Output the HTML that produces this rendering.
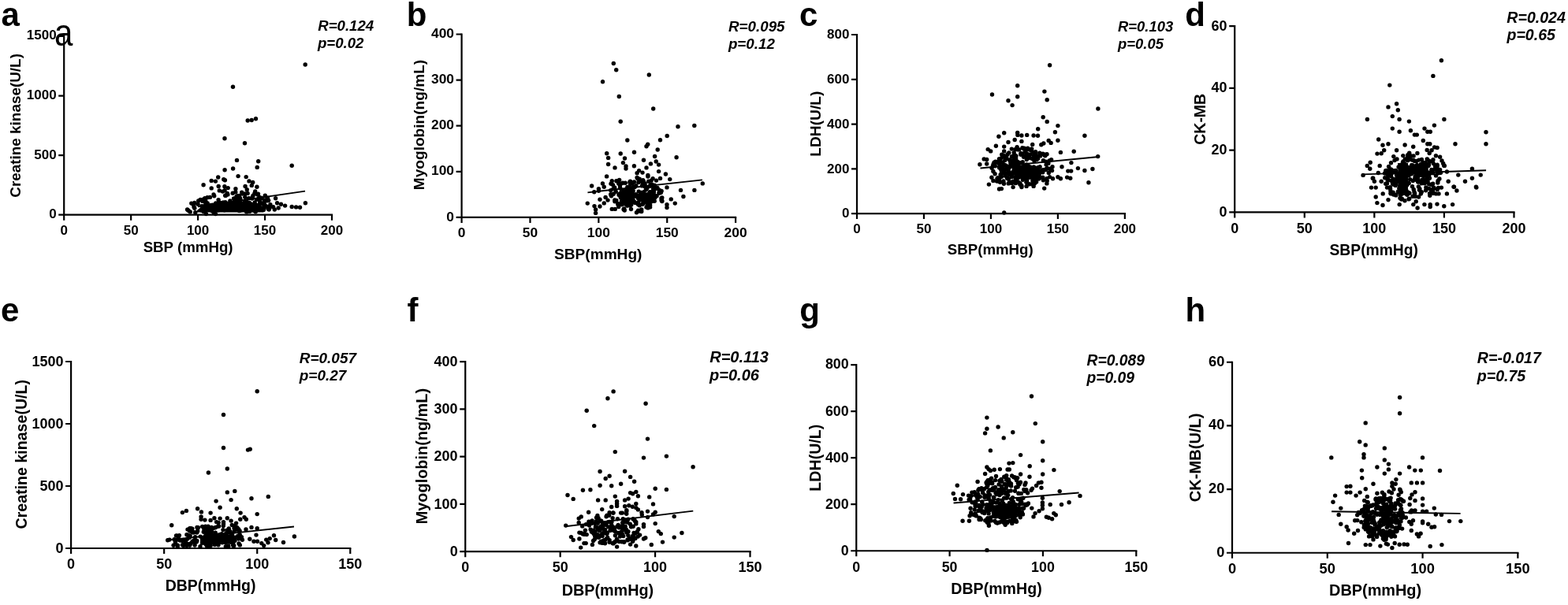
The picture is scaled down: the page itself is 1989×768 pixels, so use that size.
<!DOCTYPE html>
<html><head><meta charset="utf-8"><title>Figure</title>
<style>html,body{margin:0;padding:0;background:#fff;}body{width:1989px;height:768px;overflow:hidden;}svg{display:block;}text{fill:#000;}</style>
</head><body>
<svg width="1989" height="768" viewBox="0 0 1989 768" font-family="'Liberation Sans', Arial, sans-serif" fill="#000">
<g id="pa">
<path d="M250 267L256 262L264 259L272 258L280 255L290 256L300 255L310 256L318 256L325 259L333 262L336 266L334 269.5L250 269.5Z" fill="#000"/>
<g fill="#000">
<circle cx="387.2" cy="82" r="2.7"/>
<circle cx="295.5" cy="110.3" r="2.7"/>
<circle cx="314.2" cy="153" r="2.7"/>
<circle cx="319.2" cy="152.5" r="2.7"/>
<circle cx="324.5" cy="150.8" r="2.7"/>
<circle cx="285" cy="175.8" r="2.7"/>
<circle cx="310.5" cy="181.7" r="2.7"/>
<circle cx="300.5" cy="203.4" r="2.7"/>
<circle cx="327.7" cy="204.7" r="2.7"/>
<circle cx="326.2" cy="212.4" r="2.7"/>
<circle cx="370.2" cy="210.2" r="2.7"/>
<circle cx="285.1" cy="215.7" r="2.7"/>
<circle cx="295.6" cy="214" r="2.7"/>
<circle cx="302.1" cy="223.6" r="2.7"/>
<circle cx="312.2" cy="224.6" r="2.7"/>
<circle cx="276.7" cy="225" r="2.7"/>
<circle cx="268.2" cy="229.4" r="2.7"/>
<circle cx="273.4" cy="230.1" r="2.7"/>
<circle cx="283.8" cy="227.7" r="2.7"/>
<circle cx="285.4" cy="228.8" r="2.7"/>
<circle cx="258.1" cy="234.8" r="2.7"/>
<circle cx="268.2" cy="238.9" r="2.7"/>
<circle cx="277.2" cy="236.5" r="2.7"/>
<circle cx="284.9" cy="236.7" r="2.7"/>
<circle cx="289.2" cy="238.6" r="2.7"/>
<circle cx="298.9" cy="239.7" r="2.7"/>
<circle cx="311.1" cy="236.5" r="2.7"/>
<circle cx="316" cy="229.9" r="2.7"/>
<circle cx="320.7" cy="231.5" r="2.7"/>
<circle cx="319.3" cy="235.4" r="2.7"/>
<circle cx="325.9" cy="237.3" r="2.7"/>
<circle cx="313.3" cy="240.8" r="2.7"/>
<circle cx="323.7" cy="243" r="2.7"/>
<circle cx="327.5" cy="246.3" r="2.7"/>
<circle cx="278.3" cy="241.9" r="2.7"/>
<circle cx="271.7" cy="248.7" r="2.7"/>
<circle cx="263" cy="250.7" r="2.7"/>
<circle cx="254.2" cy="253.4" r="2.7"/>
<circle cx="242.8" cy="258.1" r="2.7"/>
<circle cx="237.6" cy="266" r="2.7"/>
<circle cx="336.3" cy="248.3" r="2.7"/>
<circle cx="339.5" cy="251.2" r="2.7"/>
<circle cx="349.6" cy="251.8" r="2.7"/>
<circle cx="351.6" cy="257.8" r="2.7"/>
<circle cx="356.5" cy="259.2" r="2.7"/>
<circle cx="361.6" cy="261.1" r="2.7"/>
<circle cx="370.2" cy="262.5" r="2.7"/>
<circle cx="375.6" cy="262.9" r="2.7"/>
<circle cx="380.5" cy="263.2" r="2.7"/>
<circle cx="387.4" cy="257.8" r="2.7"/>
<circle cx="346.6" cy="262.7" r="2.7"/>
<circle cx="348.3" cy="266" r="2.7"/>
<circle cx="353.2" cy="264" r="2.7"/>
<circle cx="341.2" cy="266" r="2.7"/>
<circle cx="261.4" cy="271.5" r="2.7"/>
<circle cx="273.4" cy="271.5" r="2.7"/>
<circle cx="306.7" cy="244.1" r="2.7"/>
<circle cx="295.2" cy="245.2" r="2.7"/>
<circle cx="285.9" cy="256.8" r="2.7"/>
<circle cx="336.8" cy="254" r="2.7"/>
<circle cx="291.8" cy="257.6" r="2.7"/>
<circle cx="256.9" cy="255.4" r="2.7"/>
<circle cx="305" cy="263.8" r="2.7"/>
<circle cx="246.8" cy="264.3" r="2.7"/>
<circle cx="307.6" cy="258.5" r="2.7"/>
<circle cx="284.6" cy="265.3" r="2.7"/>
<circle cx="293.1" cy="259.2" r="2.7"/>
<circle cx="291" cy="259.9" r="2.7"/>
<circle cx="286.4" cy="248.3" r="2.7"/>
<circle cx="327.7" cy="261.2" r="2.7"/>
<circle cx="271" cy="246.9" r="2.7"/>
<circle cx="319.8" cy="252" r="2.7"/>
<circle cx="328.4" cy="251.6" r="2.7"/>
<circle cx="340.5" cy="265.4" r="2.7"/>
<circle cx="335.3" cy="254.1" r="2.7"/>
<circle cx="244.9" cy="258.9" r="2.7"/>
<circle cx="321.1" cy="248.1" r="2.7"/>
<circle cx="341.1" cy="262.7" r="2.7"/>
<circle cx="323.1" cy="245.3" r="2.7"/>
<circle cx="297.4" cy="253.4" r="2.7"/>
<circle cx="257.6" cy="262" r="2.7"/>
<circle cx="251.1" cy="259.3" r="2.7"/>
<circle cx="341.9" cy="264.1" r="2.7"/>
<circle cx="269.8" cy="266.5" r="2.7"/>
<circle cx="259.8" cy="251.8" r="2.7"/>
<circle cx="329.3" cy="259.3" r="2.7"/>
<circle cx="247.8" cy="269.7" r="2.7"/>
<circle cx="320.5" cy="249.9" r="2.7"/>
<circle cx="246.7" cy="257.5" r="2.7"/>
<circle cx="263.2" cy="258" r="2.7"/>
<circle cx="277.1" cy="253.6" r="2.7"/>
<circle cx="340.6" cy="254.5" r="2.7"/>
<circle cx="299.1" cy="266" r="2.7"/>
<circle cx="335.1" cy="264.5" r="2.7"/>
<circle cx="316.9" cy="268.2" r="2.7"/>
<circle cx="258.2" cy="268.5" r="2.7"/>
<circle cx="332.3" cy="258.1" r="2.7"/>
<circle cx="282.5" cy="243.1" r="2.7"/>
<circle cx="241.2" cy="268.9" r="2.7"/>
<circle cx="262.7" cy="261.1" r="2.7"/>
<circle cx="264.8" cy="264.7" r="2.7"/>
<circle cx="301.4" cy="248.8" r="2.7"/>
<circle cx="255.9" cy="261.6" r="2.7"/>
<circle cx="297.4" cy="265.6" r="2.7"/>
<circle cx="303.3" cy="248.4" r="2.7"/>
<circle cx="285.1" cy="241.8" r="2.7"/>
<circle cx="298.8" cy="243.9" r="2.7"/>
<circle cx="276.1" cy="266.7" r="2.7"/>
<circle cx="342.9" cy="259.7" r="2.7"/>
<circle cx="311.7" cy="257.5" r="2.7"/>
<circle cx="238.9" cy="267.3" r="2.7"/>
<circle cx="312.7" cy="268.9" r="2.7"/>
<circle cx="289.1" cy="261.9" r="2.7"/>
<circle cx="271.4" cy="270" r="2.7"/>
<circle cx="316.6" cy="267" r="2.7"/>
<circle cx="316.6" cy="261.1" r="2.7"/>
<circle cx="322.7" cy="267.5" r="2.7"/>
<circle cx="275" cy="260.6" r="2.7"/>
<circle cx="334.3" cy="266.1" r="2.7"/>
<circle cx="282.1" cy="263.7" r="2.7"/>
<circle cx="330.3" cy="257.2" r="2.7"/>
<circle cx="304.5" cy="251.5" r="2.7"/>
<circle cx="299.9" cy="258.3" r="2.7"/>
<circle cx="245.7" cy="259.2" r="2.7"/>
<circle cx="315.6" cy="251.7" r="2.7"/>
<circle cx="316.4" cy="257.4" r="2.7"/>
<circle cx="284.6" cy="265.2" r="2.7"/>
<circle cx="246" cy="262.5" r="2.7"/>
<circle cx="288.9" cy="246.9" r="2.7"/>
<circle cx="312.4" cy="254.9" r="2.7"/>
<circle cx="303.4" cy="267.6" r="2.7"/>
<circle cx="269.5" cy="260.3" r="2.7"/>
<circle cx="334.8" cy="259.8" r="2.7"/>
<circle cx="284.7" cy="266.8" r="2.7"/>
<circle cx="272.3" cy="260" r="2.7"/>
<circle cx="258.4" cy="252.9" r="2.7"/>
<circle cx="324" cy="267.4" r="2.7"/>
<circle cx="332.1" cy="251.5" r="2.7"/>
<circle cx="300" cy="249.5" r="2.7"/>
<circle cx="251.7" cy="254.9" r="2.7"/>
<circle cx="327.4" cy="265.5" r="2.7"/>
<circle cx="313.8" cy="268.5" r="2.7"/>
<circle cx="285.7" cy="248.3" r="2.7"/>
<circle cx="260.1" cy="252.4" r="2.7"/>
<circle cx="304.6" cy="254.8" r="2.7"/>
<circle cx="271.1" cy="265.2" r="2.7"/>
<circle cx="313.5" cy="257.1" r="2.7"/>
<circle cx="270.4" cy="263.7" r="2.7"/>
<circle cx="326.6" cy="247.1" r="2.7"/>
<circle cx="305" cy="253.4" r="2.7"/>
<circle cx="305" cy="259.7" r="2.7"/>
<circle cx="324.2" cy="268.8" r="2.7"/>
<circle cx="310.9" cy="246" r="2.7"/>
<circle cx="288.3" cy="245.4" r="2.7"/>
<circle cx="314.1" cy="245.4" r="2.7"/>
<circle cx="266.4" cy="250.4" r="2.7"/>
<circle cx="312.3" cy="255.6" r="2.7"/>
<circle cx="303.4" cy="262.7" r="2.7"/>
<circle cx="279.5" cy="263.8" r="2.7"/>
<circle cx="337.7" cy="261.7" r="2.7"/>
<circle cx="304.6" cy="267.3" r="2.7"/>
<circle cx="277.7" cy="257.1" r="2.7"/>
<circle cx="332" cy="263.9" r="2.7"/>
<circle cx="339" cy="253.9" r="2.7"/>
<circle cx="307.3" cy="246.1" r="2.7"/>
<circle cx="315" cy="264.6" r="2.7"/>
<circle cx="306.3" cy="261.5" r="2.7"/>
<circle cx="260" cy="267" r="2.7"/>
<circle cx="295" cy="263.7" r="2.7"/>
<circle cx="271.6" cy="267.3" r="2.7"/>
<circle cx="329.4" cy="250.5" r="2.7"/>
<circle cx="296.4" cy="263" r="2.7"/>
<circle cx="323.4" cy="245.2" r="2.7"/>
<circle cx="273.2" cy="263.6" r="2.7"/>
<circle cx="292.8" cy="261.7" r="2.7"/>
<circle cx="327.7" cy="260.7" r="2.7"/>
<circle cx="339.1" cy="254.8" r="2.7"/>
<circle cx="260.9" cy="255.8" r="2.7"/>
<circle cx="275.5" cy="262.8" r="2.7"/>
<circle cx="306.2" cy="258.9" r="2.7"/>
<circle cx="324.2" cy="259.6" r="2.7"/>
<circle cx="277.4" cy="256.2" r="2.7"/>
<circle cx="324.4" cy="266.1" r="2.7"/>
<circle cx="268.3" cy="265.2" r="2.7"/>
<circle cx="335.2" cy="259" r="2.7"/>
<circle cx="300.4" cy="252.8" r="2.7"/>
<circle cx="297.2" cy="258.6" r="2.7"/>
<circle cx="303.3" cy="249.5" r="2.7"/>
<circle cx="335.3" cy="258.8" r="2.7"/>
<circle cx="285.3" cy="264.2" r="2.7"/>
<circle cx="299.5" cy="258.3" r="2.7"/>
<circle cx="310.8" cy="250.3" r="2.7"/>
<circle cx="297.4" cy="256.9" r="2.7"/>
<circle cx="334.2" cy="266.5" r="2.7"/>
<circle cx="273.7" cy="258" r="2.7"/>
<circle cx="321.8" cy="266.1" r="2.7"/>
<circle cx="291.9" cy="255" r="2.7"/>
<circle cx="266.8" cy="260.7" r="2.7"/>
<circle cx="310.5" cy="255.1" r="2.7"/>
<circle cx="281.3" cy="260.8" r="2.7"/>
<circle cx="259.2" cy="262.9" r="2.7"/>
<circle cx="260.8" cy="258.7" r="2.7"/>
<circle cx="296.7" cy="257.3" r="2.7"/>
<circle cx="283.1" cy="256.9" r="2.7"/>
<circle cx="296.6" cy="252" r="2.7"/>
<circle cx="268" cy="261" r="2.7"/>
<circle cx="306.2" cy="259.1" r="2.7"/>
<circle cx="324.9" cy="260.6" r="2.7"/>
<circle cx="325.4" cy="253.4" r="2.7"/>
<circle cx="315.2" cy="264.4" r="2.7"/>
<circle cx="329.4" cy="255" r="2.7"/>
<circle cx="277.7" cy="266.5" r="2.7"/>
<circle cx="269.2" cy="268" r="2.7"/>
<circle cx="271.1" cy="262.8" r="2.7"/>
<circle cx="323.2" cy="257" r="2.7"/>
<circle cx="319.5" cy="251.4" r="2.7"/>
<circle cx="285.4" cy="262" r="2.7"/>
<circle cx="310" cy="266.3" r="2.7"/>
<circle cx="294.5" cy="263.4" r="2.7"/>
<circle cx="294.2" cy="262" r="2.7"/>
<circle cx="298.5" cy="258.8" r="2.7"/>
<circle cx="300" cy="251.8" r="2.7"/>
<circle cx="323.9" cy="267.8" r="2.7"/>
<circle cx="255.5" cy="267.1" r="2.7"/>
<circle cx="290.7" cy="263.5" r="2.7"/>
<circle cx="278.8" cy="257.9" r="2.7"/>
<circle cx="295.3" cy="257.2" r="2.7"/>
<circle cx="302.9" cy="249.3" r="2.7"/>
</g>
<path d="M81.2 46V272.65H421" fill="none" stroke="#000" stroke-width="2.2" stroke-linecap="square"/>
<path d="M81.2 272.65v7M166.15 272.65v7M251.1 272.65v7M336.05 272.65v7M421 272.65v7M81.2 272.65h-7M81.2 197.1h-7M81.2 121.55h-7M81.2 46h-7" stroke="#000" stroke-width="2.2" fill="none"/>
<line x1="251.1" y1="262.38" x2="387.02" y2="242.63" stroke="#000" stroke-width="1.9"/>
<g font-size="17.0" font-weight="bold" text-anchor="end">
<text x="71.6" y="277.14">0</text>
<text x="71.6" y="201.59">500</text>
<text x="71.6" y="126.04">1000</text>
<text x="71.6" y="50.49">1500</text>
</g>
<g font-size="17.0" font-weight="bold" text-anchor="middle">
<text x="81.2" y="297.65">0</text>
<text x="166.15" y="297.65">50</text>
<text x="251.1" y="297.65">100</text>
<text x="336.05" y="297.65">150</text>
<text x="421" y="297.65">200</text>
</g>
<text x="238.6" y="320.4" font-size="18.7" font-weight="bold" text-anchor="middle">SBP (mmHg)</text>
<text transform="translate(25.6 159.4) rotate(-90)" font-size="18.9" font-weight="bold" text-anchor="middle">Creatine kinase(U/L)</text>
<text x="403.2" y="39.2" font-size="18.66" font-weight="bold" font-style="italic">R=0.124</text>
<text x="402.9" y="60.7" font-size="18.66" font-weight="bold" font-style="italic">p=0.02</text>
<text x="1.45" y="32.8" font-size="42" font-weight="bold">a</text>
</g>
<g id="pb">
<path d="M786 242L795 238L804 240L806 250L803 262L795 264L788 258Z" fill="#000"/>
<path d="M812 246L822 244L830 248L832 256L824 260L814 258Z" fill="#000"/>
<g fill="#000">
<circle cx="778.3" cy="80.5" r="2.7"/>
<circle cx="781.7" cy="88.8" r="2.7"/>
<circle cx="823.3" cy="95" r="2.7"/>
<circle cx="764.5" cy="103.8" r="2.7"/>
<circle cx="785.3" cy="122.5" r="2.7"/>
<circle cx="828.7" cy="138" r="2.7"/>
<circle cx="787.2" cy="154.2" r="2.7"/>
<circle cx="860" cy="160.8" r="2.7"/>
<circle cx="880.8" cy="159.5" r="2.7"/>
<circle cx="795.8" cy="178" r="2.7"/>
<circle cx="846.2" cy="172.5" r="2.7"/>
<circle cx="837.5" cy="177.8" r="2.7"/>
<circle cx="821.7" cy="183.3" r="2.7"/>
<circle cx="820" cy="185.8" r="2.7"/>
<circle cx="834.2" cy="190" r="2.7"/>
<circle cx="769.7" cy="194.7" r="2.7"/>
<circle cx="787.2" cy="195" r="2.7"/>
<circle cx="804.5" cy="193.3" r="2.7"/>
<circle cx="771.6" cy="200.4" r="2.7"/>
<circle cx="792.5" cy="201" r="2.7"/>
<circle cx="830.6" cy="198.5" r="2.7"/>
<circle cx="858.1" cy="199.75" r="2.7"/>
<circle cx="816.5" cy="203.25" r="2.7"/>
<circle cx="771.6" cy="208.5" r="2.7"/>
<circle cx="790.4" cy="206.6" r="2.7"/>
<circle cx="832.25" cy="205" r="2.7"/>
<circle cx="825.4" cy="207.9" r="2.7"/>
<circle cx="835.6" cy="209.1" r="2.7"/>
<circle cx="804.4" cy="210.75" r="2.7"/>
<circle cx="780" cy="212.9" r="2.7"/>
<circle cx="794" cy="211" r="2.7"/>
<circle cx="794" cy="214.1" r="2.7"/>
<circle cx="820" cy="212.9" r="2.7"/>
<circle cx="835.6" cy="217.6" r="2.7"/>
<circle cx="844.4" cy="221" r="2.7"/>
<circle cx="810.6" cy="216.6" r="2.7"/>
<circle cx="808.1" cy="219.75" r="2.7"/>
<circle cx="815" cy="219.1" r="2.7"/>
<circle cx="821.9" cy="222.4" r="2.7"/>
<circle cx="821.9" cy="224.1" r="2.7"/>
<circle cx="769.6" cy="223.9" r="2.7"/>
<circle cx="849.75" cy="227.6" r="2.7"/>
<circle cx="837.5" cy="226.4" r="2.7"/>
<circle cx="828.1" cy="226.6" r="2.7"/>
<circle cx="832.5" cy="229.1" r="2.7"/>
<circle cx="826.25" cy="229.1" r="2.7"/>
<circle cx="808.1" cy="225.4" r="2.7"/>
<circle cx="811.25" cy="227.25" r="2.7"/>
<circle cx="891.25" cy="232.9" r="2.7"/>
<circle cx="750.6" cy="236" r="2.7"/>
<circle cx="764.4" cy="232.9" r="2.7"/>
<circle cx="766.25" cy="237.25" r="2.7"/>
<circle cx="759.4" cy="239.75" r="2.7"/>
<circle cx="759.4" cy="242.25" r="2.7"/>
<circle cx="753.75" cy="243.75" r="2.7"/>
<circle cx="846" cy="237.9" r="2.7"/>
<circle cx="863.5" cy="241.4" r="2.7"/>
<circle cx="880.9" cy="241.4" r="2.7"/>
<circle cx="839.1" cy="242.5" r="2.7"/>
<circle cx="866.9" cy="249.5" r="2.7"/>
<circle cx="851.25" cy="252.9" r="2.7"/>
<circle cx="856.25" cy="258.1" r="2.7"/>
<circle cx="846" cy="259.75" r="2.7"/>
<circle cx="846" cy="263.5" r="2.7"/>
<circle cx="745.25" cy="258.1" r="2.7"/>
<circle cx="754" cy="261.6" r="2.7"/>
<circle cx="755.6" cy="266" r="2.7"/>
<circle cx="755.6" cy="270.4" r="2.7"/>
<circle cx="761" cy="253.25" r="2.7"/>
<circle cx="761" cy="262" r="2.7"/>
<circle cx="766.25" cy="257.9" r="2.7"/>
<circle cx="768.1" cy="250.4" r="2.7"/>
<circle cx="771" cy="254.1" r="2.7"/>
<circle cx="776.25" cy="265.4" r="2.7"/>
<circle cx="780.25" cy="265.4" r="2.7"/>
<circle cx="792.25" cy="267" r="2.7"/>
<circle cx="807.5" cy="269.75" r="2.7"/>
<circle cx="813.75" cy="268.5" r="2.7"/>
<circle cx="820" cy="262.9" r="2.7"/>
<circle cx="775" cy="233.25" r="2.7"/>
<circle cx="776.25" cy="229.75" r="2.7"/>
<circle cx="781.9" cy="229.75" r="2.7"/>
<circle cx="785.6" cy="228.5" r="2.7"/>
<circle cx="790" cy="232.25" r="2.7"/>
<circle cx="804.4" cy="231" r="2.7"/>
<circle cx="815" cy="232" r="2.7"/>
<circle cx="818.1" cy="232.9" r="2.7"/>
<circle cx="821.7" cy="263.1" r="2.7"/>
<circle cx="786.3" cy="246" r="2.7"/>
<circle cx="824.3" cy="243.8" r="2.7"/>
<circle cx="787.3" cy="233.3" r="2.7"/>
<circle cx="808.9" cy="226.7" r="2.7"/>
<circle cx="821.9" cy="263.9" r="2.7"/>
<circle cx="816.8" cy="243.8" r="2.7"/>
<circle cx="814.8" cy="248.2" r="2.7"/>
<circle cx="791.6" cy="266.1" r="2.7"/>
<circle cx="824.6" cy="260.2" r="2.7"/>
<circle cx="829.4" cy="243.8" r="2.7"/>
<circle cx="821.2" cy="259.8" r="2.7"/>
<circle cx="826" cy="243.9" r="2.7"/>
<circle cx="797.2" cy="246.6" r="2.7"/>
<circle cx="774.7" cy="241.6" r="2.7"/>
<circle cx="817.4" cy="253.5" r="2.7"/>
<circle cx="819.3" cy="240.9" r="2.7"/>
<circle cx="818.9" cy="251.1" r="2.7"/>
<circle cx="810.2" cy="243.1" r="2.7"/>
<circle cx="821.7" cy="259.5" r="2.7"/>
<circle cx="815.8" cy="258.5" r="2.7"/>
<circle cx="791.5" cy="243.7" r="2.7"/>
<circle cx="777.4" cy="234.6" r="2.7"/>
<circle cx="799.5" cy="230.3" r="2.7"/>
<circle cx="791.1" cy="265.8" r="2.7"/>
<circle cx="811.4" cy="248.3" r="2.7"/>
<circle cx="839.8" cy="251" r="2.7"/>
<circle cx="814.6" cy="259.4" r="2.7"/>
<circle cx="784.9" cy="246.8" r="2.7"/>
<circle cx="785.5" cy="247.8" r="2.7"/>
<circle cx="815.6" cy="228.6" r="2.7"/>
<circle cx="838.3" cy="244.5" r="2.7"/>
<circle cx="809.8" cy="252.3" r="2.7"/>
<circle cx="798.9" cy="238.6" r="2.7"/>
<circle cx="818.5" cy="250.7" r="2.7"/>
<circle cx="793.3" cy="257.5" r="2.7"/>
<circle cx="784.6" cy="259.2" r="2.7"/>
<circle cx="800.5" cy="265.5" r="2.7"/>
<circle cx="803.2" cy="247" r="2.7"/>
<circle cx="809.6" cy="267.2" r="2.7"/>
<circle cx="823.1" cy="246.6" r="2.7"/>
<circle cx="815" cy="231.1" r="2.7"/>
<circle cx="816.4" cy="246.1" r="2.7"/>
<circle cx="809.9" cy="231.5" r="2.7"/>
<circle cx="804.1" cy="255.4" r="2.7"/>
<circle cx="805" cy="237.5" r="2.7"/>
<circle cx="813.6" cy="244.5" r="2.7"/>
<circle cx="826.9" cy="249.4" r="2.7"/>
<circle cx="823.9" cy="236.5" r="2.7"/>
<circle cx="827.3" cy="253.5" r="2.7"/>
<circle cx="798.4" cy="237.9" r="2.7"/>
<circle cx="820.6" cy="250.9" r="2.7"/>
<circle cx="814.2" cy="253.9" r="2.7"/>
<circle cx="825.2" cy="234.4" r="2.7"/>
<circle cx="792.4" cy="244.7" r="2.7"/>
<circle cx="816.4" cy="230.5" r="2.7"/>
<circle cx="810.8" cy="229.2" r="2.7"/>
<circle cx="779.9" cy="255.8" r="2.7"/>
<circle cx="811.4" cy="253.8" r="2.7"/>
<circle cx="799.4" cy="247.1" r="2.7"/>
<circle cx="788.3" cy="241.1" r="2.7"/>
<circle cx="824.6" cy="262.9" r="2.7"/>
<circle cx="829" cy="253.4" r="2.7"/>
<circle cx="826.3" cy="235.4" r="2.7"/>
<circle cx="802.9" cy="237.4" r="2.7"/>
<circle cx="829.1" cy="242.2" r="2.7"/>
<circle cx="796.1" cy="250.1" r="2.7"/>
<circle cx="803.1" cy="242.2" r="2.7"/>
<circle cx="812.4" cy="247.3" r="2.7"/>
<circle cx="820.6" cy="239.2" r="2.7"/>
<circle cx="788.5" cy="255.1" r="2.7"/>
<circle cx="779.6" cy="239.4" r="2.7"/>
<circle cx="823.3" cy="256.5" r="2.7"/>
<circle cx="793.2" cy="232.3" r="2.7"/>
<circle cx="798.3" cy="257.9" r="2.7"/>
<circle cx="798.9" cy="231.2" r="2.7"/>
<circle cx="822.2" cy="251" r="2.7"/>
<circle cx="836.1" cy="245.3" r="2.7"/>
<circle cx="828.6" cy="239.4" r="2.7"/>
<circle cx="795.6" cy="243.6" r="2.7"/>
<circle cx="790.9" cy="241.9" r="2.7"/>
<circle cx="798.9" cy="242" r="2.7"/>
<circle cx="800.9" cy="243.1" r="2.7"/>
<circle cx="787.3" cy="250.8" r="2.7"/>
<circle cx="828.2" cy="249.8" r="2.7"/>
<circle cx="830.9" cy="250.8" r="2.7"/>
<circle cx="786" cy="259.4" r="2.7"/>
<circle cx="833.9" cy="238.4" r="2.7"/>
<circle cx="775.5" cy="248.7" r="2.7"/>
<circle cx="811" cy="251" r="2.7"/>
<circle cx="839.7" cy="254.7" r="2.7"/>
<circle cx="811.2" cy="260.7" r="2.7"/>
<circle cx="779.8" cy="253.9" r="2.7"/>
<circle cx="783.8" cy="258.8" r="2.7"/>
<circle cx="818.1" cy="236.8" r="2.7"/>
<circle cx="789" cy="259.7" r="2.7"/>
<circle cx="809.5" cy="259.6" r="2.7"/>
<circle cx="800.8" cy="240.9" r="2.7"/>
<circle cx="839.8" cy="255.6" r="2.7"/>
<circle cx="807.6" cy="249.6" r="2.7"/>
<circle cx="823" cy="257.2" r="2.7"/>
<circle cx="836.2" cy="244.1" r="2.7"/>
<circle cx="830.2" cy="255.3" r="2.7"/>
<circle cx="839.1" cy="254.2" r="2.7"/>
<circle cx="809.6" cy="257.2" r="2.7"/>
<circle cx="828.6" cy="244.6" r="2.7"/>
<circle cx="802.6" cy="232.4" r="2.7"/>
<circle cx="799.5" cy="233.4" r="2.7"/>
<circle cx="787.9" cy="244.7" r="2.7"/>
<circle cx="778" cy="239.6" r="2.7"/>
<circle cx="781.8" cy="254.5" r="2.7"/>
<circle cx="826.8" cy="233.9" r="2.7"/>
<circle cx="778.2" cy="246.2" r="2.7"/>
<circle cx="813.7" cy="266" r="2.7"/>
<circle cx="786.5" cy="235.6" r="2.7"/>
<circle cx="790" cy="257.6" r="2.7"/>
<circle cx="814.4" cy="235.9" r="2.7"/>
<circle cx="786.6" cy="238.4" r="2.7"/>
<circle cx="785.7" cy="259.3" r="2.7"/>
<circle cx="795.2" cy="250.1" r="2.7"/>
<circle cx="829.6" cy="247.1" r="2.7"/>
<circle cx="791.7" cy="265" r="2.7"/>
<circle cx="836.2" cy="241.1" r="2.7"/>
<circle cx="811.2" cy="268.1" r="2.7"/>
<circle cx="806.8" cy="235.7" r="2.7"/>
<circle cx="828.5" cy="242.9" r="2.7"/>
<circle cx="809.9" cy="248.7" r="2.7"/>
<circle cx="818.7" cy="236.5" r="2.7"/>
<circle cx="774.7" cy="246.8" r="2.7"/>
<circle cx="799.3" cy="261.1" r="2.7"/>
<circle cx="822.5" cy="252.7" r="2.7"/>
<circle cx="784.7" cy="232.9" r="2.7"/>
<circle cx="795.9" cy="237.4" r="2.7"/>
<circle cx="833.1" cy="248.7" r="2.7"/>
<circle cx="792.1" cy="249.5" r="2.7"/>
<circle cx="784.2" cy="259.9" r="2.7"/>
<circle cx="779.6" cy="237.9" r="2.7"/>
<circle cx="822.7" cy="230.3" r="2.7"/>
<circle cx="806.6" cy="246.6" r="2.7"/>
<circle cx="839" cy="251.8" r="2.7"/>
<circle cx="832.3" cy="239.4" r="2.7"/>
<circle cx="827.7" cy="244.3" r="2.7"/>
<circle cx="830.2" cy="235.2" r="2.7"/>
<circle cx="810.9" cy="249.1" r="2.7"/>
<circle cx="784.7" cy="262.6" r="2.7"/>
<circle cx="795.2" cy="239.7" r="2.7"/>
<circle cx="779.2" cy="239.5" r="2.7"/>
<circle cx="805.8" cy="257.5" r="2.7"/>
<circle cx="798.5" cy="256.2" r="2.7"/>
<circle cx="781.2" cy="243.3" r="2.7"/>
</g>
<path d="M585.6 43.5V275.9H933.1" fill="none" stroke="#000" stroke-width="2.2" stroke-linecap="square"/>
<path d="M585.6 275.9v7M672.48 275.9v7M759.35 275.9v7M846.23 275.9v7M933.1 275.9v7M585.6 275.9h-7M585.6 217.8h-7M585.6 159.7h-7M585.6 101.6h-7M585.6 43.5h-7" stroke="#000" stroke-width="2.2" fill="none"/>
<line x1="745.45" y1="244.35" x2="890.88" y2="228.32" stroke="#000" stroke-width="1.9"/>
<g font-size="17.4" font-weight="bold" text-anchor="end">
<text x="576" y="280.53">0</text>
<text x="576" y="222.43">100</text>
<text x="576" y="164.33">200</text>
<text x="576" y="106.23">300</text>
<text x="576" y="48.13">400</text>
</g>
<g font-size="17.4" font-weight="bold" text-anchor="middle">
<text x="585.6" y="301.4">0</text>
<text x="672.48" y="301.4">50</text>
<text x="759.35" y="301.4">100</text>
<text x="846.23" y="301.4">150</text>
<text x="933.1" y="301.4">200</text>
</g>
<text x="758.75" y="328.75" font-size="19.1" font-weight="bold" text-anchor="middle">SBP(mmHg)</text>
<text transform="translate(538 158.5) rotate(-90)" font-size="19.1" font-weight="bold" text-anchor="middle">Myoglobin(ng/mL)</text>
<text x="924" y="39.75" font-size="18.8" font-weight="bold" font-style="italic">R=0.095</text>
<text x="923.9" y="61.5" font-size="18.8" font-weight="bold" font-style="italic">p=0.12</text>
<text x="515.8" y="33" font-size="42" font-weight="bold">b</text>
</g>
<g id="pc">
<path d="M1288 212L1300 208L1314 211L1322 216L1320 225L1306 228L1292 227L1285 220Z" fill="#000"/>
<g fill="#000">
<circle cx="1331.6" cy="82.7" r="2.7"/>
<circle cx="1290.7" cy="108.7" r="2.7"/>
<circle cx="1258.5" cy="120" r="2.7"/>
<circle cx="1324.9" cy="116.1" r="2.7"/>
<circle cx="1290.7" cy="122.7" r="2.7"/>
<circle cx="1279" cy="127.7" r="2.7"/>
<circle cx="1284.1" cy="133.6" r="2.7"/>
<circle cx="1328.2" cy="126.8" r="2.7"/>
<circle cx="1392.9" cy="138" r="2.7"/>
<circle cx="1323.2" cy="148.8" r="2.7"/>
<circle cx="1328.2" cy="154.4" r="2.7"/>
<circle cx="1341.9" cy="159.6" r="2.7"/>
<circle cx="1316.7" cy="163.8" r="2.7"/>
<circle cx="1338.4" cy="167.7" r="2.7"/>
<circle cx="1273.7" cy="168.8" r="2.7"/>
<circle cx="1266.9" cy="173.2" r="2.7"/>
<circle cx="1290.7" cy="168.5" r="2.7"/>
<circle cx="1290.9" cy="171.4" r="2.7"/>
<circle cx="1295.9" cy="172" r="2.7"/>
<circle cx="1302.7" cy="171.4" r="2.7"/>
<circle cx="1311.1" cy="172" r="2.7"/>
<circle cx="1316.5" cy="172.3" r="2.7"/>
<circle cx="1375.9" cy="172.3" r="2.7"/>
<circle cx="1341.9" cy="178.2" r="2.7"/>
<circle cx="1287.2" cy="177.5" r="2.7"/>
<circle cx="1295.9" cy="179.4" r="2.7"/>
<circle cx="1279" cy="180.5" r="2.7"/>
<circle cx="1309.7" cy="183.4" r="2.7"/>
<circle cx="1263.4" cy="185.2" r="2.7"/>
<circle cx="1273.7" cy="186.1" r="2.7"/>
<circle cx="1330.2" cy="178.4" r="2.7"/>
<circle cx="1333.1" cy="181.4" r="2.7"/>
<circle cx="1323.8" cy="182" r="2.7"/>
<circle cx="1320.8" cy="183.7" r="2.7"/>
<circle cx="1253.2" cy="189.6" r="2.7"/>
<circle cx="1256.7" cy="191.9" r="2.7"/>
<circle cx="1273.7" cy="191.9" r="2.7"/>
<circle cx="1362.2" cy="192.3" r="2.7"/>
<circle cx="1345.4" cy="193.4" r="2.7"/>
<circle cx="1392.7" cy="198.6" r="2.7"/>
<circle cx="1248.2" cy="201.9" r="2.7"/>
<circle cx="1251.7" cy="202.5" r="2.7"/>
<circle cx="1267.5" cy="201.6" r="2.7"/>
<circle cx="1242.9" cy="208.7" r="2.7"/>
<circle cx="1251.7" cy="208" r="2.7"/>
<circle cx="1260.2" cy="208.3" r="2.7"/>
<circle cx="1358.9" cy="206.6" r="2.7"/>
<circle cx="1347" cy="211.8" r="2.7"/>
<circle cx="1367.4" cy="213.6" r="2.7"/>
<circle cx="1375.9" cy="216.5" r="2.7"/>
<circle cx="1385.9" cy="214.5" r="2.7"/>
<circle cx="1354.8" cy="217.1" r="2.7"/>
<circle cx="1358.7" cy="217.1" r="2.7"/>
<circle cx="1353.6" cy="225.1" r="2.7"/>
<circle cx="1357.7" cy="226.3" r="2.7"/>
<circle cx="1380.9" cy="231.8" r="2.7"/>
<circle cx="1341.9" cy="224.7" r="2.7"/>
<circle cx="1345.4" cy="226.7" r="2.7"/>
<circle cx="1335.5" cy="226.7" r="2.7"/>
<circle cx="1254.4" cy="234.1" r="2.7"/>
<circle cx="1267.5" cy="240" r="2.7"/>
<circle cx="1270.4" cy="239.6" r="2.7"/>
<circle cx="1285.1" cy="237.6" r="2.7"/>
<circle cx="1295.9" cy="237.6" r="2.7"/>
<circle cx="1302.1" cy="236.4" r="2.7"/>
<circle cx="1311.1" cy="236.4" r="2.7"/>
<circle cx="1324.7" cy="239.1" r="2.7"/>
<circle cx="1257.9" cy="225.3" r="2.7"/>
<circle cx="1259.9" cy="229.4" r="2.7"/>
<circle cx="1267.5" cy="230.6" r="2.7"/>
<circle cx="1279.2" cy="232.9" r="2.7"/>
<circle cx="1327.9" cy="232.9" r="2.7"/>
<circle cx="1273.75" cy="270" r="2.7"/>
<circle cx="1294" cy="234.3" r="2.7"/>
<circle cx="1322.7" cy="218.7" r="2.7"/>
<circle cx="1313.4" cy="197.9" r="2.7"/>
<circle cx="1302" cy="208.9" r="2.7"/>
<circle cx="1320.4" cy="196.3" r="2.7"/>
<circle cx="1306.1" cy="200.5" r="2.7"/>
<circle cx="1287.3" cy="213" r="2.7"/>
<circle cx="1281.3" cy="202.9" r="2.7"/>
<circle cx="1288.6" cy="219.3" r="2.7"/>
<circle cx="1278" cy="196" r="2.7"/>
<circle cx="1315.1" cy="202.5" r="2.7"/>
<circle cx="1331.7" cy="214.1" r="2.7"/>
<circle cx="1314.5" cy="202.6" r="2.7"/>
<circle cx="1310.9" cy="221.4" r="2.7"/>
<circle cx="1272" cy="206.1" r="2.7"/>
<circle cx="1323.3" cy="215.6" r="2.7"/>
<circle cx="1289.7" cy="189.6" r="2.7"/>
<circle cx="1329.8" cy="207.4" r="2.7"/>
<circle cx="1297.9" cy="218.4" r="2.7"/>
<circle cx="1317.8" cy="227.1" r="2.7"/>
<circle cx="1288.1" cy="202.6" r="2.7"/>
<circle cx="1290.1" cy="186.8" r="2.7"/>
<circle cx="1289.3" cy="221" r="2.7"/>
<circle cx="1309.5" cy="216.4" r="2.7"/>
<circle cx="1284.7" cy="218.5" r="2.7"/>
<circle cx="1266.3" cy="204.9" r="2.7"/>
<circle cx="1297.7" cy="225.4" r="2.7"/>
<circle cx="1322.4" cy="216.6" r="2.7"/>
<circle cx="1270.4" cy="224.3" r="2.7"/>
<circle cx="1328.4" cy="213.4" r="2.7"/>
<circle cx="1285.5" cy="211" r="2.7"/>
<circle cx="1269.1" cy="221.7" r="2.7"/>
<circle cx="1335" cy="211.8" r="2.7"/>
<circle cx="1313.8" cy="227.8" r="2.7"/>
<circle cx="1273.4" cy="233.2" r="2.7"/>
<circle cx="1306.9" cy="195.9" r="2.7"/>
<circle cx="1303" cy="220.9" r="2.7"/>
<circle cx="1283.7" cy="232.5" r="2.7"/>
<circle cx="1286.2" cy="209.2" r="2.7"/>
<circle cx="1268.6" cy="231.2" r="2.7"/>
<circle cx="1300.4" cy="214" r="2.7"/>
<circle cx="1301.7" cy="199.2" r="2.7"/>
<circle cx="1321.8" cy="216.1" r="2.7"/>
<circle cx="1267.6" cy="227.2" r="2.7"/>
<circle cx="1280.5" cy="230.9" r="2.7"/>
<circle cx="1276.8" cy="214.7" r="2.7"/>
<circle cx="1322.8" cy="195.3" r="2.7"/>
<circle cx="1300.7" cy="189.8" r="2.7"/>
<circle cx="1309.4" cy="201.4" r="2.7"/>
<circle cx="1310.4" cy="222.9" r="2.7"/>
<circle cx="1287.8" cy="215.6" r="2.7"/>
<circle cx="1273.6" cy="209.4" r="2.7"/>
<circle cx="1269.2" cy="205.3" r="2.7"/>
<circle cx="1302.4" cy="194.7" r="2.7"/>
<circle cx="1298.5" cy="199.2" r="2.7"/>
<circle cx="1302.3" cy="202.6" r="2.7"/>
<circle cx="1310.3" cy="193.2" r="2.7"/>
<circle cx="1332.8" cy="216" r="2.7"/>
<circle cx="1294.7" cy="206.6" r="2.7"/>
<circle cx="1306.7" cy="220.5" r="2.7"/>
<circle cx="1317.1" cy="223.6" r="2.7"/>
<circle cx="1295.9" cy="235.7" r="2.7"/>
<circle cx="1323.4" cy="228.8" r="2.7"/>
<circle cx="1289.9" cy="207.7" r="2.7"/>
<circle cx="1302.1" cy="231.3" r="2.7"/>
<circle cx="1299" cy="212.3" r="2.7"/>
<circle cx="1291.7" cy="231.2" r="2.7"/>
<circle cx="1314.6" cy="231" r="2.7"/>
<circle cx="1315.1" cy="215.9" r="2.7"/>
<circle cx="1316.6" cy="201.2" r="2.7"/>
<circle cx="1304.3" cy="189.5" r="2.7"/>
<circle cx="1267.7" cy="208.3" r="2.7"/>
<circle cx="1297.2" cy="205.8" r="2.7"/>
<circle cx="1262.1" cy="220.7" r="2.7"/>
<circle cx="1299" cy="198" r="2.7"/>
<circle cx="1281.9" cy="205.8" r="2.7"/>
<circle cx="1309.9" cy="229.3" r="2.7"/>
<circle cx="1290.9" cy="226.3" r="2.7"/>
<circle cx="1275.3" cy="223.3" r="2.7"/>
<circle cx="1302.2" cy="231.2" r="2.7"/>
<circle cx="1265.7" cy="225.6" r="2.7"/>
<circle cx="1267.7" cy="212.9" r="2.7"/>
<circle cx="1277" cy="201" r="2.7"/>
<circle cx="1283.3" cy="189.1" r="2.7"/>
<circle cx="1327.8" cy="226.8" r="2.7"/>
<circle cx="1289" cy="203.8" r="2.7"/>
<circle cx="1303.7" cy="188.3" r="2.7"/>
<circle cx="1282" cy="210.9" r="2.7"/>
<circle cx="1294.9" cy="196.3" r="2.7"/>
<circle cx="1281" cy="232.1" r="2.7"/>
<circle cx="1328" cy="195.8" r="2.7"/>
<circle cx="1323.4" cy="203.7" r="2.7"/>
<circle cx="1294.9" cy="194.6" r="2.7"/>
<circle cx="1273.8" cy="217.6" r="2.7"/>
<circle cx="1272.9" cy="230" r="2.7"/>
<circle cx="1314.6" cy="201.6" r="2.7"/>
<circle cx="1328.2" cy="229.5" r="2.7"/>
<circle cx="1313.6" cy="192.7" r="2.7"/>
<circle cx="1312.3" cy="232.9" r="2.7"/>
<circle cx="1292.7" cy="189.9" r="2.7"/>
<circle cx="1275.4" cy="201.4" r="2.7"/>
<circle cx="1313.4" cy="195.8" r="2.7"/>
<circle cx="1272.1" cy="197.8" r="2.7"/>
<circle cx="1309.8" cy="225.5" r="2.7"/>
<circle cx="1287.1" cy="219.1" r="2.7"/>
<circle cx="1327" cy="215.5" r="2.7"/>
<circle cx="1275.9" cy="201" r="2.7"/>
<circle cx="1330.3" cy="219.4" r="2.7"/>
<circle cx="1279.6" cy="218" r="2.7"/>
<circle cx="1292.3" cy="212.4" r="2.7"/>
<circle cx="1299.4" cy="188.3" r="2.7"/>
<circle cx="1304.8" cy="200.2" r="2.7"/>
<circle cx="1277.6" cy="226.2" r="2.7"/>
<circle cx="1316.9" cy="198.3" r="2.7"/>
<circle cx="1279.8" cy="213.4" r="2.7"/>
<circle cx="1272.5" cy="230.9" r="2.7"/>
<circle cx="1294" cy="223.5" r="2.7"/>
<circle cx="1288" cy="232.5" r="2.7"/>
<circle cx="1297" cy="195" r="2.7"/>
<circle cx="1301.4" cy="218.2" r="2.7"/>
<circle cx="1286.1" cy="218.9" r="2.7"/>
<circle cx="1319.1" cy="211.8" r="2.7"/>
<circle cx="1297.4" cy="228.3" r="2.7"/>
<circle cx="1311.4" cy="212" r="2.7"/>
<circle cx="1318.8" cy="194.3" r="2.7"/>
<circle cx="1305.4" cy="197.8" r="2.7"/>
<circle cx="1292.4" cy="224.7" r="2.7"/>
<circle cx="1319.4" cy="225.6" r="2.7"/>
<circle cx="1276.4" cy="210.5" r="2.7"/>
<circle cx="1275.3" cy="215" r="2.7"/>
<circle cx="1296.9" cy="187.8" r="2.7"/>
<circle cx="1304.6" cy="221.7" r="2.7"/>
<circle cx="1302.7" cy="229.6" r="2.7"/>
<circle cx="1259.4" cy="210.8" r="2.7"/>
<circle cx="1291.9" cy="208.1" r="2.7"/>
<circle cx="1278.5" cy="225.9" r="2.7"/>
<circle cx="1302.4" cy="213.2" r="2.7"/>
<circle cx="1319.7" cy="197.9" r="2.7"/>
<circle cx="1269.4" cy="201.6" r="2.7"/>
<circle cx="1306.5" cy="212.3" r="2.7"/>
<circle cx="1278.6" cy="215.4" r="2.7"/>
<circle cx="1264.9" cy="227" r="2.7"/>
<circle cx="1271.4" cy="198.7" r="2.7"/>
<circle cx="1270.5" cy="220.5" r="2.7"/>
<circle cx="1322.8" cy="225.3" r="2.7"/>
<circle cx="1262.8" cy="206.5" r="2.7"/>
<circle cx="1286.4" cy="196.8" r="2.7"/>
<circle cx="1296.2" cy="224.1" r="2.7"/>
<circle cx="1293.5" cy="223.2" r="2.7"/>
<circle cx="1288.6" cy="200.9" r="2.7"/>
<circle cx="1291.1" cy="189.8" r="2.7"/>
<circle cx="1317.5" cy="222.7" r="2.7"/>
<circle cx="1275.9" cy="198.7" r="2.7"/>
<circle cx="1301" cy="198.1" r="2.7"/>
<circle cx="1294" cy="232.6" r="2.7"/>
<circle cx="1286.4" cy="202.9" r="2.7"/>
<circle cx="1334.5" cy="216.5" r="2.7"/>
<circle cx="1261.1" cy="206.2" r="2.7"/>
<circle cx="1308.7" cy="188.9" r="2.7"/>
<circle cx="1284.8" cy="220.7" r="2.7"/>
<circle cx="1325.4" cy="215.5" r="2.7"/>
<circle cx="1327.1" cy="209.1" r="2.7"/>
<circle cx="1288.6" cy="228.2" r="2.7"/>
<circle cx="1287.7" cy="225.1" r="2.7"/>
<circle cx="1274.8" cy="203.4" r="2.7"/>
<circle cx="1272.3" cy="213.5" r="2.7"/>
<circle cx="1270.8" cy="196.2" r="2.7"/>
<circle cx="1274.7" cy="209.4" r="2.7"/>
<circle cx="1282.1" cy="208.4" r="2.7"/>
<circle cx="1325.3" cy="196.2" r="2.7"/>
<circle cx="1287.9" cy="189.6" r="2.7"/>
<circle cx="1311.9" cy="204.1" r="2.7"/>
<circle cx="1272.2" cy="199.1" r="2.7"/>
<circle cx="1288.7" cy="232.2" r="2.7"/>
<circle cx="1313.8" cy="199.4" r="2.7"/>
<circle cx="1286.2" cy="193.7" r="2.7"/>
<circle cx="1331.1" cy="204" r="2.7"/>
<circle cx="1317.7" cy="222.2" r="2.7"/>
<circle cx="1283.1" cy="205.2" r="2.7"/>
<circle cx="1264.5" cy="230.1" r="2.7"/>
<circle cx="1283.4" cy="224.5" r="2.7"/>
<circle cx="1298.5" cy="188.7" r="2.7"/>
<circle cx="1288.7" cy="197.9" r="2.7"/>
<circle cx="1282.4" cy="207.2" r="2.7"/>
<circle cx="1300.4" cy="192.8" r="2.7"/>
<circle cx="1313.1" cy="199" r="2.7"/>
<circle cx="1314.6" cy="219.3" r="2.7"/>
<circle cx="1279.9" cy="221.6" r="2.7"/>
<circle cx="1289.6" cy="205.3" r="2.7"/>
<circle cx="1325.5" cy="197.3" r="2.7"/>
<circle cx="1280.8" cy="203.2" r="2.7"/>
<circle cx="1259.9" cy="217.5" r="2.7"/>
<circle cx="1302.1" cy="226.4" r="2.7"/>
<circle cx="1310.3" cy="232" r="2.7"/>
<circle cx="1274.9" cy="220.5" r="2.7"/>
<circle cx="1310" cy="233.8" r="2.7"/>
<circle cx="1325.7" cy="197.7" r="2.7"/>
<circle cx="1307.3" cy="190.5" r="2.7"/>
<circle cx="1291.4" cy="205.6" r="2.7"/>
<circle cx="1262.7" cy="205.2" r="2.7"/>
<circle cx="1283.6" cy="210.9" r="2.7"/>
<circle cx="1279.8" cy="193.9" r="2.7"/>
<circle cx="1289.4" cy="209.8" r="2.7"/>
<circle cx="1271" cy="219.3" r="2.7"/>
<circle cx="1284.7" cy="207.1" r="2.7"/>
<circle cx="1269.8" cy="215.1" r="2.7"/>
<circle cx="1312.7" cy="213.7" r="2.7"/>
<circle cx="1288.5" cy="204.2" r="2.7"/>
<circle cx="1262.9" cy="206.2" r="2.7"/>
<circle cx="1262.3" cy="210.8" r="2.7"/>
<circle cx="1303.7" cy="209.4" r="2.7"/>
<circle cx="1283.4" cy="198.7" r="2.7"/>
<circle cx="1327.6" cy="214.3" r="2.7"/>
<circle cx="1278.4" cy="219.4" r="2.7"/>
<circle cx="1272.5" cy="209.5" r="2.7"/>
<circle cx="1306" cy="233.7" r="2.7"/>
<circle cx="1286.3" cy="214.8" r="2.7"/>
<circle cx="1331.5" cy="224.6" r="2.7"/>
<circle cx="1306.9" cy="217" r="2.7"/>
<circle cx="1290.1" cy="206.8" r="2.7"/>
<circle cx="1279.5" cy="227.5" r="2.7"/>
<circle cx="1326.6" cy="205.1" r="2.7"/>
<circle cx="1268.6" cy="211.4" r="2.7"/>
<circle cx="1282.1" cy="204" r="2.7"/>
<circle cx="1273" cy="197.4" r="2.7"/>
<circle cx="1311.1" cy="197.7" r="2.7"/>
<circle cx="1258.1" cy="213.2" r="2.7"/>
<circle cx="1288.7" cy="198" r="2.7"/>
<circle cx="1296.5" cy="218.5" r="2.7"/>
<circle cx="1300.8" cy="217.2" r="2.7"/>
<circle cx="1301.7" cy="227.6" r="2.7"/>
<circle cx="1333.6" cy="202.7" r="2.7"/>
<circle cx="1285" cy="230.3" r="2.7"/>
<circle cx="1282.4" cy="221.8" r="2.7"/>
<circle cx="1312.2" cy="220.3" r="2.7"/>
<circle cx="1270.4" cy="217.1" r="2.7"/>
<circle cx="1296.3" cy="214.2" r="2.7"/>
<circle cx="1286.8" cy="200.3" r="2.7"/>
<circle cx="1316.4" cy="212.7" r="2.7"/>
<circle cx="1276.5" cy="198.5" r="2.7"/>
</g>
<path d="M1087 44V271.1H1426.86" fill="none" stroke="#000" stroke-width="2.2" stroke-linecap="square"/>
<path d="M1087 271.1v7M1171.96 271.1v7M1256.93 271.1v7M1341.89 271.1v7M1426.86 271.1v7M1087 271.1h-7M1087 214.33h-7M1087 157.55h-7M1087 100.78h-7M1087 44h-7" stroke="#000" stroke-width="2.2" fill="none"/>
<line x1="1243.51" y1="213.47" x2="1391.17" y2="199.28" stroke="#000" stroke-width="1.9"/>
<g font-size="17.0" font-weight="bold" text-anchor="end">
<text x="1077.4" y="276.29">0</text>
<text x="1077.4" y="219.51">200</text>
<text x="1077.4" y="162.74">400</text>
<text x="1077.4" y="105.96">600</text>
<text x="1077.4" y="49.19">800</text>
</g>
<g font-size="17.0" font-weight="bold" text-anchor="middle">
<text x="1087" y="295.9">0</text>
<text x="1171.96" y="295.9">50</text>
<text x="1256.93" y="295.9">100</text>
<text x="1341.89" y="295.9">150</text>
<text x="1426.86" y="295.9">200</text>
</g>
<text x="1256.25" y="322.5" font-size="18.7" font-weight="bold" text-anchor="middle">SBP(mmHg)</text>
<text transform="translate(1040.7 157.2) rotate(-90)" font-size="19.2" font-weight="bold" text-anchor="middle">LDH(U/L)</text>
<text x="1418.1" y="40.25" font-size="18.4" font-weight="bold" font-style="italic">R=0.103</text>
<text x="1418.1" y="61.5" font-size="18.4" font-weight="bold" font-style="italic">p=0.05</text>
<text x="1013.9" y="33" font-size="42" font-weight="bold">c</text>
</g>
<g id="pd">
<path d="M1773 207L1786 207L1786 247L1775 249Z" fill="#000"/>
<path d="M1786 210L1806 210L1810 219L1786 222Z" fill="#000"/>
<g fill="#000">
<circle cx="1828.4" cy="76.7" r="2.7"/>
<circle cx="1817.9" cy="96.4" r="2.7"/>
<circle cx="1762.8" cy="108.1" r="2.7"/>
<circle cx="1771.6" cy="131.8" r="2.7"/>
<circle cx="1761" cy="135.9" r="2.7"/>
<circle cx="1773.3" cy="139.8" r="2.7"/>
<circle cx="1766.3" cy="147.6" r="2.7"/>
<circle cx="1775.1" cy="151.5" r="2.7"/>
<circle cx="1734.4" cy="151.5" r="2.7"/>
<circle cx="1787.4" cy="154.1" r="2.7"/>
<circle cx="1831.9" cy="151.5" r="2.7"/>
<circle cx="1819.4" cy="159.1" r="2.7"/>
<circle cx="1766.3" cy="163.1" r="2.7"/>
<circle cx="1775.1" cy="167.3" r="2.7"/>
<circle cx="1789.4" cy="165.8" r="2.7"/>
<circle cx="1807" cy="163.1" r="2.7"/>
<circle cx="1810.8" cy="167.3" r="2.7"/>
<circle cx="1814.3" cy="167.3" r="2.7"/>
<circle cx="1794.4" cy="171.1" r="2.7"/>
<circle cx="1797.3" cy="171.1" r="2.7"/>
<circle cx="1885" cy="167.8" r="2.7"/>
<circle cx="1748.7" cy="177" r="2.7"/>
<circle cx="1805.3" cy="178.5" r="2.7"/>
<circle cx="1810.8" cy="182.8" r="2.7"/>
<circle cx="1813.8" cy="182.8" r="2.7"/>
<circle cx="1846" cy="182.8" r="2.7"/>
<circle cx="1885" cy="182.8" r="2.7"/>
<circle cx="1754" cy="184.3" r="2.7"/>
<circle cx="1761" cy="182.8" r="2.7"/>
<circle cx="1755.7" cy="190.8" r="2.7"/>
<circle cx="1771.6" cy="190.8" r="2.7"/>
<circle cx="1747" cy="195.1" r="2.7"/>
<circle cx="1752.2" cy="194.8" r="2.7"/>
<circle cx="1819.6" cy="186.9" r="2.7"/>
<circle cx="1823.1" cy="187.5" r="2.7"/>
<circle cx="1810.2" cy="190.4" r="2.7"/>
<circle cx="1816.1" cy="190.8" r="2.7"/>
<circle cx="1813.2" cy="194.5" r="2.7"/>
<circle cx="1821.4" cy="197.8" r="2.7"/>
<circle cx="1826.6" cy="199.2" r="2.7"/>
<circle cx="1829" cy="203.9" r="2.7"/>
<circle cx="1830.7" cy="207.4" r="2.7"/>
<circle cx="1832.3" cy="210.4" r="2.7"/>
<circle cx="1823.1" cy="209.2" r="2.7"/>
<circle cx="1817.9" cy="202.7" r="2.7"/>
<circle cx="1738.2" cy="206.3" r="2.7"/>
<circle cx="1734.3" cy="210.4" r="2.7"/>
<circle cx="1737.8" cy="214.2" r="2.7"/>
<circle cx="1750.2" cy="210.4" r="2.7"/>
<circle cx="1729.1" cy="222.4" r="2.7"/>
<circle cx="1867.4" cy="214.2" r="2.7"/>
<circle cx="1849.8" cy="222.1" r="2.7"/>
<circle cx="1878.2" cy="222.1" r="2.7"/>
<circle cx="1867.4" cy="226.2" r="2.7"/>
<circle cx="1858.5" cy="230.3" r="2.7"/>
<circle cx="1837.2" cy="230.3" r="2.7"/>
<circle cx="1844.5" cy="237.3" r="2.7"/>
<circle cx="1872.4" cy="237.3" r="2.7"/>
<circle cx="1835.4" cy="218" r="2.7"/>
<circle cx="1782.1" cy="184" r="2.7"/>
<circle cx="1792.7" cy="186.3" r="2.7"/>
<circle cx="1787.7" cy="194.3" r="2.7"/>
<circle cx="1797.9" cy="194.5" r="2.7"/>
<circle cx="1787.4" cy="202.5" r="2.7"/>
<circle cx="1794.4" cy="204.5" r="2.7"/>
<circle cx="1803.4" cy="202.5" r="2.7"/>
<circle cx="1810.8" cy="202.5" r="2.7"/>
<circle cx="1767.8" cy="198.6" r="2.7"/>
<circle cx="1741.7" cy="226.2" r="2.7"/>
<circle cx="1831.8" cy="210.3" r="2.7"/>
<circle cx="1844" cy="237.1" r="2.7"/>
<circle cx="1847.9" cy="242" r="2.7"/>
<circle cx="1872.8" cy="238.1" r="2.7"/>
<circle cx="1835.4" cy="245.9" r="2.7"/>
<circle cx="1842.6" cy="259.6" r="2.7"/>
<circle cx="1831.8" cy="261.7" r="2.7"/>
<circle cx="1823" cy="259.1" r="2.7"/>
<circle cx="1814.2" cy="259.6" r="2.7"/>
<circle cx="1814.2" cy="262.5" r="2.7"/>
<circle cx="1806.9" cy="259.6" r="2.7"/>
<circle cx="1798.1" cy="264" r="2.7"/>
<circle cx="1792.8" cy="259.6" r="2.7"/>
<circle cx="1796.2" cy="255.7" r="2.7"/>
<circle cx="1775.2" cy="259.6" r="2.7"/>
<circle cx="1782" cy="254.7" r="2.7"/>
<circle cx="1754" cy="260.5" r="2.7"/>
<circle cx="1746.9" cy="257.6" r="2.7"/>
<circle cx="1745.2" cy="250" r="2.7"/>
<circle cx="1761" cy="253.7" r="2.7"/>
<circle cx="1739.5" cy="238.1" r="2.7"/>
<circle cx="1745.2" cy="238.1" r="2.7"/>
<circle cx="1813.8" cy="248.3" r="2.7"/>
<circle cx="1799.6" cy="250" r="2.7"/>
<circle cx="1754.2" cy="245.9" r="2.7"/>
<circle cx="1764.4" cy="245.9" r="2.7"/>
<circle cx="1741.3" cy="226.2" r="2.7"/>
<circle cx="1743.4" cy="230.3" r="2.7"/>
<circle cx="1752.2" cy="230.3" r="2.7"/>
<circle cx="1748.3" cy="219.5" r="2.7"/>
<circle cx="1821.6" cy="245.9" r="2.7"/>
<circle cx="1825" cy="245.9" r="2.7"/>
<circle cx="1828.4" cy="238.1" r="2.7"/>
<circle cx="1779.4" cy="206.5" r="2.7"/>
<circle cx="1793" cy="203.4" r="2.7"/>
<circle cx="1763.4" cy="237.6" r="2.7"/>
<circle cx="1764.1" cy="222.6" r="2.7"/>
<circle cx="1811.6" cy="224.4" r="2.7"/>
<circle cx="1767.7" cy="247.1" r="2.7"/>
<circle cx="1774.3" cy="225.9" r="2.7"/>
<circle cx="1813.3" cy="219.1" r="2.7"/>
<circle cx="1807.5" cy="210.9" r="2.7"/>
<circle cx="1807.5" cy="215.3" r="2.7"/>
<circle cx="1780" cy="240.8" r="2.7"/>
<circle cx="1816.7" cy="244.9" r="2.7"/>
<circle cx="1796.9" cy="220.8" r="2.7"/>
<circle cx="1806.9" cy="232.8" r="2.7"/>
<circle cx="1815.8" cy="243.3" r="2.7"/>
<circle cx="1765" cy="218.2" r="2.7"/>
<circle cx="1804.2" cy="209.6" r="2.7"/>
<circle cx="1805.5" cy="220.7" r="2.7"/>
<circle cx="1801.5" cy="219.4" r="2.7"/>
<circle cx="1759.5" cy="238.1" r="2.7"/>
<circle cx="1776.6" cy="239.1" r="2.7"/>
<circle cx="1779.8" cy="197.6" r="2.7"/>
<circle cx="1795.1" cy="224.5" r="2.7"/>
<circle cx="1782.9" cy="214.2" r="2.7"/>
<circle cx="1813.6" cy="245.5" r="2.7"/>
<circle cx="1776.4" cy="219.1" r="2.7"/>
<circle cx="1800.5" cy="241.2" r="2.7"/>
<circle cx="1826.6" cy="219" r="2.7"/>
<circle cx="1806" cy="228.2" r="2.7"/>
<circle cx="1813.6" cy="204.7" r="2.7"/>
<circle cx="1823.2" cy="210.8" r="2.7"/>
<circle cx="1791.2" cy="203.1" r="2.7"/>
<circle cx="1796.7" cy="204.5" r="2.7"/>
<circle cx="1801" cy="212.2" r="2.7"/>
<circle cx="1772.4" cy="224.4" r="2.7"/>
<circle cx="1782.3" cy="211.3" r="2.7"/>
<circle cx="1820.3" cy="214.3" r="2.7"/>
<circle cx="1770.6" cy="247.2" r="2.7"/>
<circle cx="1790.9" cy="220.5" r="2.7"/>
<circle cx="1814.1" cy="219.4" r="2.7"/>
<circle cx="1760.2" cy="228.5" r="2.7"/>
<circle cx="1803.3" cy="232.8" r="2.7"/>
<circle cx="1776" cy="251.4" r="2.7"/>
<circle cx="1787.9" cy="245.2" r="2.7"/>
<circle cx="1808.2" cy="206.4" r="2.7"/>
<circle cx="1781.8" cy="240.5" r="2.7"/>
<circle cx="1778.3" cy="226.3" r="2.7"/>
<circle cx="1794" cy="243.8" r="2.7"/>
<circle cx="1813" cy="239.4" r="2.7"/>
<circle cx="1784.7" cy="243.4" r="2.7"/>
<circle cx="1815.6" cy="241.3" r="2.7"/>
<circle cx="1824.4" cy="219.7" r="2.7"/>
<circle cx="1806.8" cy="210.8" r="2.7"/>
<circle cx="1797.5" cy="209.4" r="2.7"/>
<circle cx="1784" cy="217.8" r="2.7"/>
<circle cx="1803.3" cy="243.8" r="2.7"/>
<circle cx="1782.3" cy="233.6" r="2.7"/>
<circle cx="1781.5" cy="212.5" r="2.7"/>
<circle cx="1821.2" cy="215" r="2.7"/>
<circle cx="1762.8" cy="215.8" r="2.7"/>
<circle cx="1809.4" cy="208.5" r="2.7"/>
<circle cx="1809.5" cy="228.2" r="2.7"/>
<circle cx="1805" cy="206.5" r="2.7"/>
<circle cx="1781.2" cy="221.4" r="2.7"/>
<circle cx="1756.7" cy="225.7" r="2.7"/>
<circle cx="1785" cy="215" r="2.7"/>
<circle cx="1770.7" cy="247.9" r="2.7"/>
<circle cx="1779.1" cy="240.5" r="2.7"/>
<circle cx="1787" cy="252.8" r="2.7"/>
<circle cx="1771.8" cy="220.1" r="2.7"/>
<circle cx="1806.8" cy="206.5" r="2.7"/>
<circle cx="1775.7" cy="236" r="2.7"/>
<circle cx="1824.2" cy="215" r="2.7"/>
<circle cx="1769.2" cy="217.1" r="2.7"/>
<circle cx="1801.7" cy="218.3" r="2.7"/>
<circle cx="1802.4" cy="208.5" r="2.7"/>
<circle cx="1817.7" cy="233.1" r="2.7"/>
<circle cx="1792.3" cy="229.5" r="2.7"/>
<circle cx="1764.2" cy="245.4" r="2.7"/>
<circle cx="1805.7" cy="222.7" r="2.7"/>
<circle cx="1803.9" cy="220.7" r="2.7"/>
<circle cx="1783.7" cy="209.6" r="2.7"/>
<circle cx="1799.2" cy="229.8" r="2.7"/>
<circle cx="1793.1" cy="197.9" r="2.7"/>
<circle cx="1801.2" cy="222.4" r="2.7"/>
<circle cx="1798.7" cy="231.1" r="2.7"/>
<circle cx="1809.1" cy="214.5" r="2.7"/>
<circle cx="1785" cy="247.2" r="2.7"/>
<circle cx="1791.4" cy="209.8" r="2.7"/>
<circle cx="1816.5" cy="234.3" r="2.7"/>
<circle cx="1813.4" cy="226.2" r="2.7"/>
<circle cx="1818.6" cy="238" r="2.7"/>
<circle cx="1774.1" cy="243.6" r="2.7"/>
<circle cx="1788.7" cy="227.6" r="2.7"/>
<circle cx="1818.3" cy="207.6" r="2.7"/>
<circle cx="1776.1" cy="234" r="2.7"/>
<circle cx="1761.3" cy="228.7" r="2.7"/>
<circle cx="1812.7" cy="225" r="2.7"/>
<circle cx="1773.4" cy="243.2" r="2.7"/>
<circle cx="1817.6" cy="241.5" r="2.7"/>
<circle cx="1795.5" cy="249.4" r="2.7"/>
<circle cx="1813.4" cy="205" r="2.7"/>
<circle cx="1782.3" cy="201.9" r="2.7"/>
<circle cx="1758.6" cy="216.4" r="2.7"/>
<circle cx="1818.3" cy="245.2" r="2.7"/>
<circle cx="1764.5" cy="206.7" r="2.7"/>
<circle cx="1784" cy="246.1" r="2.7"/>
<circle cx="1770.9" cy="233.1" r="2.7"/>
<circle cx="1819.1" cy="238.9" r="2.7"/>
<circle cx="1770.2" cy="235.4" r="2.7"/>
<circle cx="1787" cy="196.9" r="2.7"/>
<circle cx="1780.4" cy="214.6" r="2.7"/>
<circle cx="1801.3" cy="212.4" r="2.7"/>
<circle cx="1799.4" cy="237" r="2.7"/>
<circle cx="1769" cy="203.6" r="2.7"/>
<circle cx="1806" cy="223.5" r="2.7"/>
<circle cx="1823.8" cy="232" r="2.7"/>
<circle cx="1781.7" cy="207.6" r="2.7"/>
<circle cx="1809" cy="217.3" r="2.7"/>
<circle cx="1778.3" cy="220.1" r="2.7"/>
<circle cx="1766.5" cy="233.2" r="2.7"/>
<circle cx="1786.6" cy="244.4" r="2.7"/>
<circle cx="1785.4" cy="223" r="2.7"/>
<circle cx="1780.9" cy="237.5" r="2.7"/>
<circle cx="1772.9" cy="230.2" r="2.7"/>
<circle cx="1776.5" cy="247.5" r="2.7"/>
<circle cx="1776.6" cy="246.4" r="2.7"/>
<circle cx="1804.7" cy="222.8" r="2.7"/>
<circle cx="1823.2" cy="218.9" r="2.7"/>
<circle cx="1809.5" cy="231.5" r="2.7"/>
<circle cx="1788.3" cy="199.8" r="2.7"/>
<circle cx="1786.2" cy="212.6" r="2.7"/>
<circle cx="1787.7" cy="252.3" r="2.7"/>
<circle cx="1777.1" cy="237" r="2.7"/>
<circle cx="1804.4" cy="210.4" r="2.7"/>
<circle cx="1785.6" cy="203.8" r="2.7"/>
<circle cx="1820.5" cy="210.8" r="2.7"/>
<circle cx="1786.3" cy="216.2" r="2.7"/>
<circle cx="1798.5" cy="228.2" r="2.7"/>
<circle cx="1762.4" cy="217.5" r="2.7"/>
<circle cx="1783" cy="238.7" r="2.7"/>
<circle cx="1804.2" cy="216.3" r="2.7"/>
<circle cx="1757.7" cy="233.3" r="2.7"/>
<circle cx="1789.8" cy="217.3" r="2.7"/>
<circle cx="1789.5" cy="214.6" r="2.7"/>
<circle cx="1804.3" cy="231.7" r="2.7"/>
<circle cx="1827.5" cy="219.3" r="2.7"/>
<circle cx="1815.7" cy="234.3" r="2.7"/>
<circle cx="1760.8" cy="223.3" r="2.7"/>
<circle cx="1784.9" cy="234.7" r="2.7"/>
<circle cx="1771.1" cy="217.8" r="2.7"/>
<circle cx="1766.3" cy="219.3" r="2.7"/>
<circle cx="1768" cy="234.3" r="2.7"/>
<circle cx="1800.9" cy="239.8" r="2.7"/>
<circle cx="1774.2" cy="243.9" r="2.7"/>
<circle cx="1808.6" cy="241.8" r="2.7"/>
<circle cx="1764.6" cy="223.7" r="2.7"/>
<circle cx="1757.7" cy="216.7" r="2.7"/>
<circle cx="1794.6" cy="227.5" r="2.7"/>
<circle cx="1764" cy="242.6" r="2.7"/>
<circle cx="1777.7" cy="225.9" r="2.7"/>
<circle cx="1765" cy="229.5" r="2.7"/>
<circle cx="1792.9" cy="213.3" r="2.7"/>
<circle cx="1812" cy="210.6" r="2.7"/>
<circle cx="1785.8" cy="199.2" r="2.7"/>
<circle cx="1771.7" cy="222.6" r="2.7"/>
<circle cx="1796.2" cy="223.1" r="2.7"/>
<circle cx="1817.2" cy="205.1" r="2.7"/>
<circle cx="1825.9" cy="227" r="2.7"/>
<circle cx="1785.3" cy="232.1" r="2.7"/>
<circle cx="1785.8" cy="196.6" r="2.7"/>
<circle cx="1767.1" cy="244.3" r="2.7"/>
<circle cx="1808.9" cy="238" r="2.7"/>
<circle cx="1767.3" cy="227.3" r="2.7"/>
<circle cx="1777.7" cy="253" r="2.7"/>
<circle cx="1802.3" cy="246" r="2.7"/>
<circle cx="1759.3" cy="220.6" r="2.7"/>
<circle cx="1761.6" cy="211.4" r="2.7"/>
<circle cx="1779.7" cy="224.9" r="2.7"/>
<circle cx="1824.1" cy="229.5" r="2.7"/>
<circle cx="1792.1" cy="249.3" r="2.7"/>
<circle cx="1784.4" cy="213.7" r="2.7"/>
<circle cx="1809.2" cy="211.2" r="2.7"/>
<circle cx="1782.5" cy="221.3" r="2.7"/>
<circle cx="1790.3" cy="217.2" r="2.7"/>
<circle cx="1787" cy="222.6" r="2.7"/>
<circle cx="1760.4" cy="227.1" r="2.7"/>
<circle cx="1795.4" cy="219.6" r="2.7"/>
<circle cx="1772" cy="201.9" r="2.7"/>
<circle cx="1782.8" cy="214.6" r="2.7"/>
<circle cx="1790.8" cy="209.6" r="2.7"/>
<circle cx="1810" cy="224.8" r="2.7"/>
<circle cx="1756.6" cy="220" r="2.7"/>
<circle cx="1782.3" cy="231.3" r="2.7"/>
<circle cx="1782.6" cy="213.8" r="2.7"/>
<circle cx="1799.9" cy="230.8" r="2.7"/>
<circle cx="1778.7" cy="225.4" r="2.7"/>
<circle cx="1793.2" cy="240.5" r="2.7"/>
<circle cx="1774.1" cy="211.9" r="2.7"/>
<circle cx="1813.3" cy="221.1" r="2.7"/>
<circle cx="1817.9" cy="219.7" r="2.7"/>
<circle cx="1776.6" cy="236.1" r="2.7"/>
<circle cx="1815.9" cy="215.4" r="2.7"/>
<circle cx="1778.9" cy="244.3" r="2.7"/>
<circle cx="1812.8" cy="233.9" r="2.7"/>
<circle cx="1759.5" cy="232.9" r="2.7"/>
<circle cx="1823.3" cy="240.4" r="2.7"/>
<circle cx="1809.1" cy="220.7" r="2.7"/>
<circle cx="1812.3" cy="222" r="2.7"/>
<circle cx="1810.1" cy="218.3" r="2.7"/>
<circle cx="1788.2" cy="221.8" r="2.7"/>
<circle cx="1764.5" cy="214.9" r="2.7"/>
<circle cx="1764.3" cy="245.2" r="2.7"/>
<circle cx="1804" cy="228.3" r="2.7"/>
<circle cx="1778.3" cy="252.3" r="2.7"/>
<circle cx="1771.2" cy="220.5" r="2.7"/>
<circle cx="1794.6" cy="245.5" r="2.7"/>
<circle cx="1790" cy="197.9" r="2.7"/>
<circle cx="1787.1" cy="218.3" r="2.7"/>
<circle cx="1791.5" cy="236.7" r="2.7"/>
<circle cx="1783.9" cy="241.9" r="2.7"/>
<circle cx="1763.6" cy="239.8" r="2.7"/>
<circle cx="1768" cy="230.6" r="2.7"/>
<circle cx="1770.6" cy="216.4" r="2.7"/>
<circle cx="1767.8" cy="216.6" r="2.7"/>
<circle cx="1798.6" cy="226.7" r="2.7"/>
<circle cx="1784" cy="229.9" r="2.7"/>
<circle cx="1816.6" cy="217.1" r="2.7"/>
<circle cx="1798" cy="224.3" r="2.7"/>
<circle cx="1826.6" cy="215.4" r="2.7"/>
<circle cx="1806.2" cy="209.8" r="2.7"/>
<circle cx="1774.8" cy="239.1" r="2.7"/>
<circle cx="1797.4" cy="211.2" r="2.7"/>
<circle cx="1783.2" cy="238.3" r="2.7"/>
<circle cx="1787.2" cy="232.4" r="2.7"/>
<circle cx="1821.5" cy="222.9" r="2.7"/>
<circle cx="1791" cy="209.6" r="2.7"/>
<circle cx="1810.2" cy="202" r="2.7"/>
<circle cx="1778.1" cy="246" r="2.7"/>
<circle cx="1796.9" cy="228.5" r="2.7"/>
<circle cx="1780" cy="204.9" r="2.7"/>
<circle cx="1812.5" cy="208.9" r="2.7"/>
<circle cx="1770.3" cy="227.6" r="2.7"/>
<circle cx="1799.9" cy="203.1" r="2.7"/>
<circle cx="1811.1" cy="230.4" r="2.7"/>
<circle cx="1805.6" cy="217.5" r="2.7"/>
<circle cx="1824.5" cy="238.4" r="2.7"/>
<circle cx="1776.9" cy="246.6" r="2.7"/>
<circle cx="1808.3" cy="211.6" r="2.7"/>
<circle cx="1794.7" cy="211" r="2.7"/>
</g>
<path d="M1566.2 33.1V269.4H1920.5" fill="none" stroke="#000" stroke-width="2.2" stroke-linecap="square"/>
<path d="M1566.2 269.4v7M1654.78 269.4v7M1743.35 269.4v7M1831.93 269.4v7M1920.5 269.4v7M1566.2 269.4h-7M1566.2 190.63h-7M1566.2 111.87h-7M1566.2 33.1h-7" stroke="#000" stroke-width="2.2" fill="none"/>
<line x1="1727.94" y1="221.35" x2="1885.07" y2="216.23" stroke="#000" stroke-width="1.9"/>
<g font-size="18.0" font-weight="bold" text-anchor="end">
<text x="1556.6" y="274.84">0</text>
<text x="1556.6" y="196.08">20</text>
<text x="1556.6" y="117.31">40</text>
<text x="1556.6" y="38.54">60</text>
</g>
<g font-size="18.0" font-weight="bold" text-anchor="middle">
<text x="1566.2" y="296.2">0</text>
<text x="1654.78" y="296.2">50</text>
<text x="1743.35" y="296.2">100</text>
<text x="1831.93" y="296.2">150</text>
<text x="1920.5" y="296.2">200</text>
</g>
<text x="1742.75" y="323.75" font-size="19.3" font-weight="bold" text-anchor="middle">SBP(mmHg)</text>
<text transform="translate(1528.7 151.3) rotate(-90)" font-size="19.5" font-weight="bold" text-anchor="middle">CK-MB</text>
<text x="1911.35" y="29" font-size="19.57" font-weight="bold" font-style="italic">R=0.024</text>
<text x="1911.5" y="51" font-size="19.57" font-weight="bold" font-style="italic">p=0.65</text>
<text x="1503.3" y="33.3" font-size="42" font-weight="bold">d</text>
</g>
<g id="pe">
<path d="M254 682L262 677L280 677L296 679L298 690L254 692Z" fill="#000"/>
<g fill="#000">
<circle cx="326.2" cy="496.7" r="2.7"/>
<circle cx="283.5" cy="526.5" r="2.7"/>
<circle cx="283.5" cy="568.5" r="2.7"/>
<circle cx="314.5" cy="571.1" r="2.7"/>
<circle cx="317.2" cy="570.3" r="2.7"/>
<circle cx="288.3" cy="595" r="2.7"/>
<circle cx="264.4" cy="600" r="2.7"/>
<circle cx="288.3" cy="624.9" r="2.7"/>
<circle cx="297.8" cy="623.4" r="2.7"/>
<circle cx="293.1" cy="634.6" r="2.7"/>
<circle cx="274.1" cy="636.1" r="2.7"/>
<circle cx="319" cy="632.7" r="2.7"/>
<circle cx="340.3" cy="630.4" r="2.7"/>
<circle cx="279.1" cy="644.3" r="2.7"/>
<circle cx="250.6" cy="645.8" r="2.7"/>
<circle cx="255.4" cy="649.9" r="2.7"/>
<circle cx="231.4" cy="650.6" r="2.7"/>
<circle cx="236.4" cy="648.4" r="2.7"/>
<circle cx="267.1" cy="651.1" r="2.7"/>
<circle cx="300.3" cy="645.7" r="2.7"/>
<circle cx="305.1" cy="651.1" r="2.7"/>
<circle cx="326.2" cy="652.6" r="2.7"/>
<circle cx="310" cy="656.6" r="2.7"/>
<circle cx="312.3" cy="659.2" r="2.7"/>
<circle cx="304.8" cy="659.2" r="2.7"/>
<circle cx="217.7" cy="666.7" r="2.7"/>
<circle cx="255.1" cy="655.9" r="2.7"/>
<circle cx="255.1" cy="659.2" r="2.7"/>
<circle cx="259.9" cy="660.1" r="2.7"/>
<circle cx="267.1" cy="660.4" r="2.7"/>
<circle cx="271.9" cy="657.7" r="2.7"/>
<circle cx="279.1" cy="658.1" r="2.7"/>
<circle cx="288.3" cy="657.7" r="2.7"/>
<circle cx="293.1" cy="661.1" r="2.7"/>
<circle cx="274.6" cy="662.6" r="2.7"/>
<circle cx="277.1" cy="663.4" r="2.7"/>
<circle cx="283.5" cy="662.6" r="2.7"/>
<circle cx="283.5" cy="664.9" r="2.7"/>
<circle cx="294.3" cy="666.4" r="2.7"/>
<circle cx="299.6" cy="664.1" r="2.7"/>
<circle cx="240.7" cy="670.8" r="2.7"/>
<circle cx="271.9" cy="670.1" r="2.7"/>
<circle cx="302.6" cy="671.6" r="2.7"/>
<circle cx="312" cy="672" r="2.7"/>
<circle cx="319" cy="669.4" r="2.7"/>
<circle cx="326.2" cy="670.8" r="2.7"/>
<circle cx="325" cy="679.1" r="2.7"/>
<circle cx="347.5" cy="679.8" r="2.7"/>
<circle cx="342.2" cy="683.6" r="2.7"/>
<circle cx="337.7" cy="685.1" r="2.7"/>
<circle cx="349.7" cy="685.5" r="2.7"/>
<circle cx="373.4" cy="681" r="2.7"/>
<circle cx="359.5" cy="688.5" r="2.7"/>
<circle cx="316.8" cy="684.3" r="2.7"/>
<circle cx="322" cy="687.3" r="2.7"/>
<circle cx="326.5" cy="687.3" r="2.7"/>
<circle cx="331.8" cy="689.6" r="2.7"/>
<circle cx="334.7" cy="692.6" r="2.7"/>
<circle cx="340" cy="688.8" r="2.7"/>
<circle cx="212.7" cy="685.8" r="2.7"/>
<circle cx="215" cy="685.1" r="2.7"/>
<circle cx="224.7" cy="680.1" r="2.7"/>
<circle cx="222.5" cy="689.1" r="2.7"/>
<circle cx="231.4" cy="691.8" r="2.7"/>
<circle cx="242.5" cy="673.1" r="2.7"/>
<circle cx="227.4" cy="679.6" r="2.7"/>
<circle cx="240.6" cy="674" r="2.7"/>
<circle cx="241.1" cy="680.3" r="2.7"/>
<circle cx="297.1" cy="670.5" r="2.7"/>
<circle cx="295.8" cy="689.9" r="2.7"/>
<circle cx="272.3" cy="681.2" r="2.7"/>
<circle cx="284" cy="681" r="2.7"/>
<circle cx="277" cy="691.7" r="2.7"/>
<circle cx="287.9" cy="673.3" r="2.7"/>
<circle cx="220.1" cy="692.2" r="2.7"/>
<circle cx="249.1" cy="688" r="2.7"/>
<circle cx="236.9" cy="678.7" r="2.7"/>
<circle cx="249.8" cy="686.4" r="2.7"/>
<circle cx="303.7" cy="680.2" r="2.7"/>
<circle cx="268.2" cy="675.8" r="2.7"/>
<circle cx="236.8" cy="692.6" r="2.7"/>
<circle cx="225.4" cy="692.3" r="2.7"/>
<circle cx="276.8" cy="668" r="2.7"/>
<circle cx="299.8" cy="668.9" r="2.7"/>
<circle cx="268.2" cy="669.4" r="2.7"/>
<circle cx="297" cy="667.7" r="2.7"/>
<circle cx="277.6" cy="667.9" r="2.7"/>
<circle cx="307.4" cy="685.2" r="2.7"/>
<circle cx="295.4" cy="688" r="2.7"/>
<circle cx="264" cy="668.2" r="2.7"/>
<circle cx="264.5" cy="671.2" r="2.7"/>
<circle cx="264.5" cy="675.9" r="2.7"/>
<circle cx="261.9" cy="671.5" r="2.7"/>
<circle cx="281.3" cy="677.7" r="2.7"/>
<circle cx="260.7" cy="668.2" r="2.7"/>
<circle cx="260.8" cy="681.6" r="2.7"/>
<circle cx="306.4" cy="681.7" r="2.7"/>
<circle cx="246.5" cy="685.7" r="2.7"/>
<circle cx="304.3" cy="691.9" r="2.7"/>
<circle cx="295.7" cy="692.2" r="2.7"/>
<circle cx="270.5" cy="685.2" r="2.7"/>
<circle cx="272.6" cy="683.2" r="2.7"/>
<circle cx="263.8" cy="692.9" r="2.7"/>
<circle cx="296.7" cy="692.8" r="2.7"/>
<circle cx="293" cy="685.3" r="2.7"/>
<circle cx="263.9" cy="682.2" r="2.7"/>
<circle cx="286.2" cy="688.6" r="2.7"/>
<circle cx="289.7" cy="693.3" r="2.7"/>
<circle cx="293.3" cy="677.4" r="2.7"/>
<circle cx="246.5" cy="675.7" r="2.7"/>
<circle cx="239.7" cy="682.4" r="2.7"/>
<circle cx="264.5" cy="675.4" r="2.7"/>
<circle cx="278.4" cy="678.7" r="2.7"/>
<circle cx="237" cy="690.7" r="2.7"/>
<circle cx="238.8" cy="679.4" r="2.7"/>
<circle cx="288.7" cy="675.3" r="2.7"/>
<circle cx="237.4" cy="684.3" r="2.7"/>
<circle cx="239.5" cy="680.6" r="2.7"/>
<circle cx="239" cy="690.6" r="2.7"/>
<circle cx="243.3" cy="675.2" r="2.7"/>
<circle cx="283.3" cy="684.9" r="2.7"/>
<circle cx="289.3" cy="681.1" r="2.7"/>
<circle cx="222.4" cy="687.4" r="2.7"/>
<circle cx="238" cy="672.1" r="2.7"/>
<circle cx="254" cy="693.7" r="2.7"/>
<circle cx="249.8" cy="676" r="2.7"/>
<circle cx="251.4" cy="669.8" r="2.7"/>
<circle cx="289.2" cy="687.9" r="2.7"/>
<circle cx="246.8" cy="688.1" r="2.7"/>
<circle cx="250.7" cy="674" r="2.7"/>
<circle cx="270.8" cy="686.8" r="2.7"/>
<circle cx="259.7" cy="688.9" r="2.7"/>
<circle cx="301" cy="670" r="2.7"/>
<circle cx="234.3" cy="690.6" r="2.7"/>
<circle cx="247.1" cy="692.1" r="2.7"/>
<circle cx="228.3" cy="686" r="2.7"/>
<circle cx="227.8" cy="685" r="2.7"/>
<circle cx="298" cy="686.3" r="2.7"/>
<circle cx="304.2" cy="678.7" r="2.7"/>
<circle cx="250" cy="669.4" r="2.7"/>
<circle cx="240.7" cy="692.3" r="2.7"/>
<circle cx="243.9" cy="671.1" r="2.7"/>
<circle cx="226.5" cy="680.8" r="2.7"/>
<circle cx="265.8" cy="681.9" r="2.7"/>
<circle cx="286.7" cy="680.7" r="2.7"/>
<circle cx="244.1" cy="687.3" r="2.7"/>
<circle cx="301.9" cy="680.1" r="2.7"/>
<circle cx="268.4" cy="674.2" r="2.7"/>
<circle cx="289.5" cy="693.2" r="2.7"/>
<circle cx="258.2" cy="682.9" r="2.7"/>
<circle cx="294.5" cy="679" r="2.7"/>
<circle cx="232.9" cy="692.4" r="2.7"/>
<circle cx="286.7" cy="677.2" r="2.7"/>
<circle cx="231.3" cy="686.6" r="2.7"/>
<circle cx="235.7" cy="688.4" r="2.7"/>
<circle cx="261.9" cy="684.3" r="2.7"/>
<circle cx="258.7" cy="671.1" r="2.7"/>
<circle cx="273.2" cy="676.3" r="2.7"/>
<circle cx="259.5" cy="683.5" r="2.7"/>
<circle cx="244.8" cy="676" r="2.7"/>
<circle cx="298.1" cy="682.3" r="2.7"/>
<circle cx="254.2" cy="681.1" r="2.7"/>
<circle cx="258.3" cy="675.3" r="2.7"/>
<circle cx="300.9" cy="672.5" r="2.7"/>
<circle cx="303" cy="689.9" r="2.7"/>
<circle cx="297.9" cy="670.6" r="2.7"/>
<circle cx="262.8" cy="693.6" r="2.7"/>
<circle cx="242.1" cy="670.8" r="2.7"/>
<circle cx="283" cy="672.6" r="2.7"/>
<circle cx="269.9" cy="670.4" r="2.7"/>
<circle cx="304.1" cy="674" r="2.7"/>
<circle cx="224.1" cy="685.2" r="2.7"/>
<circle cx="247.6" cy="681.7" r="2.7"/>
<circle cx="261.7" cy="691.8" r="2.7"/>
<circle cx="263.3" cy="676.6" r="2.7"/>
<circle cx="240.3" cy="682.1" r="2.7"/>
<circle cx="274.4" cy="678.9" r="2.7"/>
<circle cx="223.5" cy="679.9" r="2.7"/>
<circle cx="260.3" cy="684" r="2.7"/>
<circle cx="256.6" cy="668.4" r="2.7"/>
<circle cx="290.2" cy="672.6" r="2.7"/>
<circle cx="292.9" cy="688.3" r="2.7"/>
<circle cx="238.9" cy="691.3" r="2.7"/>
<circle cx="262.4" cy="677.9" r="2.7"/>
<circle cx="267.2" cy="692.5" r="2.7"/>
<circle cx="261" cy="679.5" r="2.7"/>
<circle cx="242.3" cy="689.6" r="2.7"/>
<circle cx="262.3" cy="675.6" r="2.7"/>
<circle cx="293.4" cy="688.5" r="2.7"/>
<circle cx="279.4" cy="688.3" r="2.7"/>
<circle cx="281.9" cy="688.7" r="2.7"/>
<circle cx="290.3" cy="670.9" r="2.7"/>
<circle cx="291.6" cy="674.5" r="2.7"/>
<circle cx="237.9" cy="691.7" r="2.7"/>
<circle cx="247.3" cy="688.2" r="2.7"/>
<circle cx="272.4" cy="691.5" r="2.7"/>
<circle cx="302.7" cy="684" r="2.7"/>
<circle cx="221.1" cy="684.7" r="2.7"/>
<circle cx="225.3" cy="693.5" r="2.7"/>
<circle cx="296.9" cy="674.7" r="2.7"/>
<circle cx="232.5" cy="685.4" r="2.7"/>
<circle cx="286.3" cy="693.6" r="2.7"/>
<circle cx="273.6" cy="669.5" r="2.7"/>
<circle cx="283.3" cy="667.6" r="2.7"/>
</g>
<path d="M90.1 459V696H444.29" fill="none" stroke="#000" stroke-width="2.2" stroke-linecap="square"/>
<path d="M90.1 696v7M208.16 696v7M326.23 696v7M444.29 696v7M90.1 696h-7M90.1 617h-7M90.1 538h-7M90.1 459h-7" stroke="#000" stroke-width="2.2" fill="none"/>
<line x1="212.42" y1="685.57" x2="372.98" y2="668.51" stroke="#000" stroke-width="1.9"/>
<g font-size="18.0" font-weight="bold" text-anchor="end">
<text x="80.5" y="702.14">0</text>
<text x="80.5" y="623.14">500</text>
<text x="80.5" y="544.14">1000</text>
<text x="80.5" y="465.14">1500</text>
</g>
<g font-size="18.0" font-weight="bold" text-anchor="middle">
<text x="90.1" y="722">0</text>
<text x="208.16" y="722">50</text>
<text x="326.23" y="722">100</text>
<text x="444.29" y="722">150</text>
</g>
<text x="267.1" y="749.75" font-size="19.5" font-weight="bold" text-anchor="middle">DBP(mmHg)</text>
<text transform="translate(34.2 576.7) rotate(-90)" font-size="19.6" font-weight="bold" text-anchor="middle">Creatine kinase(U/L)</text>
<text x="379.85" y="460.6" font-size="18.95" font-weight="bold" font-style="italic">R=0.057</text>
<text x="379.8" y="482.5" font-size="18.95" font-weight="bold" font-style="italic">p=0.27</text>
<text x="1.1" y="408.3" font-size="42" font-weight="bold">e</text>
</g>
<g id="pf">
<g fill="#000">
<circle cx="778.1" cy="496.9" r="2.7"/>
<circle cx="770.9" cy="505.8" r="2.7"/>
<circle cx="819.1" cy="512.2" r="2.7"/>
<circle cx="744.2" cy="521.2" r="2.7"/>
<circle cx="753.7" cy="540.6" r="2.7"/>
<circle cx="821.5" cy="557.1" r="2.7"/>
<circle cx="780.3" cy="573.6" r="2.7"/>
<circle cx="816.5" cy="581.1" r="2.7"/>
<circle cx="845.4" cy="579.1" r="2.7"/>
<circle cx="879.1" cy="592.8" r="2.7"/>
<circle cx="761.1" cy="598.5" r="2.7"/>
<circle cx="792.6" cy="598.2" r="2.7"/>
<circle cx="773.1" cy="604.2" r="2.7"/>
<circle cx="768.2" cy="607.5" r="2.7"/>
<circle cx="799.6" cy="605.4" r="2.7"/>
<circle cx="804.6" cy="611.3" r="2.7"/>
<circle cx="761.1" cy="616.2" r="2.7"/>
<circle cx="775.7" cy="616.7" r="2.7"/>
<circle cx="787.6" cy="614.3" r="2.7"/>
<circle cx="831.2" cy="620.2" r="2.7"/>
<circle cx="845.4" cy="621.4" r="2.7"/>
<circle cx="739.4" cy="622.2" r="2.7"/>
<circle cx="748.9" cy="621.7" r="2.7"/>
<circle cx="720" cy="628.5" r="2.7"/>
<circle cx="727.2" cy="633.4" r="2.7"/>
<circle cx="799.6" cy="625.6" r="2.7"/>
<circle cx="802.6" cy="626.7" r="2.7"/>
<circle cx="806.8" cy="624.4" r="2.7"/>
<circle cx="809.4" cy="629.7" r="2.7"/>
<circle cx="780.3" cy="630.1" r="2.7"/>
<circle cx="823.7" cy="630.9" r="2.7"/>
<circle cx="758.6" cy="634.9" r="2.7"/>
<circle cx="768.2" cy="634.9" r="2.7"/>
<circle cx="792.6" cy="634.9" r="2.7"/>
<circle cx="797.1" cy="633.1" r="2.7"/>
<circle cx="782.6" cy="636.4" r="2.7"/>
<circle cx="782.6" cy="639.4" r="2.7"/>
<circle cx="782.6" cy="642.4" r="2.7"/>
<circle cx="828.5" cy="639.9" r="2.7"/>
<circle cx="806.8" cy="639.4" r="2.7"/>
<circle cx="792.6" cy="642.7" r="2.7"/>
<circle cx="797.8" cy="641.7" r="2.7"/>
<circle cx="802.3" cy="643.2" r="2.7"/>
<circle cx="806.8" cy="644.6" r="2.7"/>
<circle cx="809.4" cy="646.9" r="2.7"/>
<circle cx="775.7" cy="643.5" r="2.7"/>
<circle cx="763.7" cy="646.6" r="2.7"/>
<circle cx="794.8" cy="647.6" r="2.7"/>
<circle cx="794.8" cy="649.1" r="2.7"/>
<circle cx="746.6" cy="650.3" r="2.7"/>
<circle cx="814" cy="650.6" r="2.7"/>
<circle cx="821.5" cy="649.1" r="2.7"/>
<circle cx="831.2" cy="650.3" r="2.7"/>
<circle cx="828.5" cy="652.9" r="2.7"/>
<circle cx="814.3" cy="653.6" r="2.7"/>
<circle cx="821.5" cy="656.6" r="2.7"/>
<circle cx="855.2" cy="655.6" r="2.7"/>
<circle cx="787.6" cy="651.1" r="2.7"/>
<circle cx="777.9" cy="651.1" r="2.7"/>
<circle cx="831.2" cy="664.6" r="2.7"/>
<circle cx="816.5" cy="665.6" r="2.7"/>
<circle cx="816.5" cy="668.6" r="2.7"/>
<circle cx="806.8" cy="662.6" r="2.7"/>
<circle cx="806.8" cy="664.9" r="2.7"/>
<circle cx="835.3" cy="674.6" r="2.7"/>
<circle cx="838.3" cy="677.6" r="2.7"/>
<circle cx="864.9" cy="676.5" r="2.7"/>
<circle cx="855.2" cy="682.1" r="2.7"/>
<circle cx="840.5" cy="688.1" r="2.7"/>
<circle cx="826.3" cy="691.5" r="2.7"/>
<circle cx="806.8" cy="693" r="2.7"/>
<circle cx="816.5" cy="684" r="2.7"/>
<circle cx="818.8" cy="682.8" r="2.7"/>
<circle cx="811.6" cy="679.1" r="2.7"/>
<circle cx="799.6" cy="691.1" r="2.7"/>
<circle cx="782.6" cy="694.1" r="2.7"/>
<circle cx="736.7" cy="695.1" r="2.7"/>
<circle cx="751.4" cy="691.4" r="2.7"/>
<circle cx="743.2" cy="689.6" r="2.7"/>
<circle cx="740.9" cy="689.6" r="2.7"/>
<circle cx="734.9" cy="684" r="2.7"/>
<circle cx="724.5" cy="681.6" r="2.7"/>
<circle cx="727.2" cy="685.5" r="2.7"/>
<circle cx="717.7" cy="667.1" r="2.7"/>
<circle cx="734.9" cy="676.1" r="2.7"/>
<circle cx="737.2" cy="676.5" r="2.7"/>
<circle cx="744.2" cy="678.6" r="2.7"/>
<circle cx="734.2" cy="663.4" r="2.7"/>
<circle cx="734.2" cy="658.1" r="2.7"/>
<circle cx="737.2" cy="655.9" r="2.7"/>
<circle cx="738.7" cy="667.9" r="2.7"/>
<circle cx="761.1" cy="688.8" r="2.7"/>
<circle cx="773.1" cy="685.8" r="2.7"/>
<circle cx="802.2" cy="680.7" r="2.7"/>
<circle cx="796.1" cy="684.9" r="2.7"/>
<circle cx="780.1" cy="687.7" r="2.7"/>
<circle cx="785.3" cy="669.7" r="2.7"/>
<circle cx="766.5" cy="664.1" r="2.7"/>
<circle cx="796.9" cy="659.1" r="2.7"/>
<circle cx="786.4" cy="681" r="2.7"/>
<circle cx="789.4" cy="670.6" r="2.7"/>
<circle cx="761.4" cy="660.9" r="2.7"/>
<circle cx="751.9" cy="675.9" r="2.7"/>
<circle cx="788.8" cy="687.7" r="2.7"/>
<circle cx="762.5" cy="687.1" r="2.7"/>
<circle cx="805.5" cy="661.6" r="2.7"/>
<circle cx="808.5" cy="674.8" r="2.7"/>
<circle cx="809.2" cy="681" r="2.7"/>
<circle cx="762.7" cy="661.2" r="2.7"/>
<circle cx="776.7" cy="669.5" r="2.7"/>
<circle cx="777.6" cy="668.9" r="2.7"/>
<circle cx="793.1" cy="660" r="2.7"/>
<circle cx="752.7" cy="673.2" r="2.7"/>
<circle cx="755.9" cy="663.1" r="2.7"/>
<circle cx="764.3" cy="671.1" r="2.7"/>
<circle cx="808.2" cy="675.6" r="2.7"/>
<circle cx="768.7" cy="666.3" r="2.7"/>
<circle cx="755.4" cy="669" r="2.7"/>
<circle cx="770" cy="677.4" r="2.7"/>
<circle cx="794.4" cy="672.2" r="2.7"/>
<circle cx="785.4" cy="687.5" r="2.7"/>
<circle cx="804.8" cy="660" r="2.7"/>
<circle cx="778" cy="689.9" r="2.7"/>
<circle cx="777.1" cy="657.6" r="2.7"/>
<circle cx="794.7" cy="652.3" r="2.7"/>
<circle cx="749.1" cy="672.1" r="2.7"/>
<circle cx="758.2" cy="678.8" r="2.7"/>
<circle cx="791.8" cy="662.8" r="2.7"/>
<circle cx="794.8" cy="675.9" r="2.7"/>
<circle cx="790.2" cy="668.3" r="2.7"/>
<circle cx="770" cy="654.3" r="2.7"/>
<circle cx="773.1" cy="688.2" r="2.7"/>
<circle cx="789.4" cy="667.5" r="2.7"/>
<circle cx="747.5" cy="667" r="2.7"/>
<circle cx="780.4" cy="679.8" r="2.7"/>
<circle cx="767.8" cy="676" r="2.7"/>
<circle cx="788.4" cy="674.6" r="2.7"/>
<circle cx="741.4" cy="678.4" r="2.7"/>
<circle cx="773.1" cy="650.7" r="2.7"/>
<circle cx="743.4" cy="665.6" r="2.7"/>
<circle cx="772.7" cy="654.2" r="2.7"/>
<circle cx="774" cy="673.5" r="2.7"/>
<circle cx="746.9" cy="662.2" r="2.7"/>
<circle cx="754.3" cy="684.6" r="2.7"/>
<circle cx="775.7" cy="666.4" r="2.7"/>
<circle cx="767.5" cy="685.5" r="2.7"/>
<circle cx="757" cy="681.7" r="2.7"/>
<circle cx="790.4" cy="667.9" r="2.7"/>
<circle cx="765.1" cy="667.5" r="2.7"/>
<circle cx="771.5" cy="662.6" r="2.7"/>
<circle cx="784.2" cy="666.4" r="2.7"/>
<circle cx="760.5" cy="680.9" r="2.7"/>
<circle cx="771.7" cy="668.9" r="2.7"/>
<circle cx="803.1" cy="668.2" r="2.7"/>
<circle cx="765.8" cy="685.9" r="2.7"/>
<circle cx="767.7" cy="676.8" r="2.7"/>
<circle cx="792.8" cy="661.9" r="2.7"/>
<circle cx="791.6" cy="688" r="2.7"/>
<circle cx="786.5" cy="676.8" r="2.7"/>
<circle cx="770.2" cy="676.1" r="2.7"/>
<circle cx="754.7" cy="680.8" r="2.7"/>
<circle cx="777.9" cy="689.2" r="2.7"/>
<circle cx="763.3" cy="678.5" r="2.7"/>
<circle cx="794.7" cy="660.4" r="2.7"/>
<circle cx="783.4" cy="658.8" r="2.7"/>
<circle cx="767.5" cy="689.7" r="2.7"/>
<circle cx="752.6" cy="686.5" r="2.7"/>
<circle cx="742.4" cy="673.3" r="2.7"/>
<circle cx="798.8" cy="683.5" r="2.7"/>
<circle cx="767" cy="673.6" r="2.7"/>
<circle cx="790.7" cy="680.5" r="2.7"/>
<circle cx="793.3" cy="673.2" r="2.7"/>
<circle cx="756.6" cy="678.2" r="2.7"/>
<circle cx="779.5" cy="671.8" r="2.7"/>
<circle cx="795.8" cy="663" r="2.7"/>
<circle cx="791.8" cy="688" r="2.7"/>
<circle cx="758.3" cy="672.7" r="2.7"/>
<circle cx="777.1" cy="669.8" r="2.7"/>
<circle cx="750.4" cy="675" r="2.7"/>
<circle cx="804.1" cy="676.5" r="2.7"/>
<circle cx="759.4" cy="682.2" r="2.7"/>
<circle cx="769.1" cy="655.8" r="2.7"/>
<circle cx="782.8" cy="668.4" r="2.7"/>
<circle cx="777.2" cy="689.6" r="2.7"/>
<circle cx="780.1" cy="688.1" r="2.7"/>
<circle cx="764.1" cy="680.4" r="2.7"/>
<circle cx="789.2" cy="677.6" r="2.7"/>
<circle cx="799.3" cy="665.2" r="2.7"/>
<circle cx="758.2" cy="664.3" r="2.7"/>
<circle cx="777.8" cy="651" r="2.7"/>
<circle cx="765.7" cy="676.3" r="2.7"/>
<circle cx="749" cy="662.4" r="2.7"/>
<circle cx="802.6" cy="687.3" r="2.7"/>
<circle cx="756.5" cy="657.1" r="2.7"/>
<circle cx="796.8" cy="679.6" r="2.7"/>
<circle cx="757.6" cy="669.6" r="2.7"/>
<circle cx="789.5" cy="651.1" r="2.7"/>
<circle cx="798.6" cy="684.4" r="2.7"/>
<circle cx="753.6" cy="678.1" r="2.7"/>
<circle cx="789.7" cy="663.5" r="2.7"/>
<circle cx="803" cy="658.7" r="2.7"/>
<circle cx="773.1" cy="662.5" r="2.7"/>
<circle cx="770.7" cy="682.5" r="2.7"/>
<circle cx="780.2" cy="674.4" r="2.7"/>
<circle cx="754.5" cy="674.8" r="2.7"/>
<circle cx="763.3" cy="667.6" r="2.7"/>
<circle cx="769.9" cy="683.1" r="2.7"/>
<circle cx="805.7" cy="677.1" r="2.7"/>
<circle cx="750.7" cy="664.2" r="2.7"/>
<circle cx="790.3" cy="658.6" r="2.7"/>
<circle cx="803.3" cy="684.9" r="2.7"/>
<circle cx="754.8" cy="664.6" r="2.7"/>
<circle cx="754.9" cy="678.7" r="2.7"/>
<circle cx="741.5" cy="677.8" r="2.7"/>
<circle cx="778.2" cy="673.3" r="2.7"/>
<circle cx="764.1" cy="689.4" r="2.7"/>
<circle cx="782.4" cy="684.5" r="2.7"/>
<circle cx="739.5" cy="677.9" r="2.7"/>
<circle cx="751.1" cy="660.9" r="2.7"/>
<circle cx="787.4" cy="677.8" r="2.7"/>
<circle cx="761.9" cy="668.7" r="2.7"/>
<circle cx="759.4" cy="672.5" r="2.7"/>
<circle cx="764.3" cy="664.4" r="2.7"/>
<circle cx="756.4" cy="661.7" r="2.7"/>
<circle cx="761" cy="673.7" r="2.7"/>
<circle cx="757.9" cy="654.5" r="2.7"/>
<circle cx="800.6" cy="668.8" r="2.7"/>
<circle cx="775.9" cy="662.5" r="2.7"/>
<circle cx="803.6" cy="680.2" r="2.7"/>
<circle cx="784.1" cy="676.4" r="2.7"/>
<circle cx="789.2" cy="670" r="2.7"/>
<circle cx="768.6" cy="665.6" r="2.7"/>
<circle cx="775.3" cy="668.7" r="2.7"/>
<circle cx="777.1" cy="671.3" r="2.7"/>
<circle cx="796.4" cy="685.7" r="2.7"/>
<circle cx="796.9" cy="674.8" r="2.7"/>
<circle cx="759.1" cy="657.7" r="2.7"/>
<circle cx="802.3" cy="683.4" r="2.7"/>
<circle cx="788.6" cy="677.7" r="2.7"/>
<circle cx="793.1" cy="668.2" r="2.7"/>
<circle cx="767.4" cy="672.1" r="2.7"/>
<circle cx="805.9" cy="683.4" r="2.7"/>
<circle cx="809.9" cy="671.7" r="2.7"/>
</g>
<path d="M590.25 459.1V700.2H951.5" fill="none" stroke="#000" stroke-width="2.2" stroke-linecap="square"/>
<path d="M590.25 700.2v7M710.66 700.2v7M831.08 700.2v7M951.5 700.2v7M590.25 700.2h-7M590.25 639.93h-7M590.25 579.65h-7M590.25 519.38h-7M590.25 459.1h-7" stroke="#000" stroke-width="2.2" fill="none"/>
<line x1="717.17" y1="668.25" x2="879.25" y2="648.66" stroke="#000" stroke-width="1.9"/>
<g font-size="18.0" font-weight="bold" text-anchor="end">
<text x="580.65" y="706.04">0</text>
<text x="580.65" y="645.77">100</text>
<text x="580.65" y="585.49">200</text>
<text x="580.65" y="525.22">300</text>
<text x="580.65" y="464.94">400</text>
</g>
<g font-size="18.0" font-weight="bold" text-anchor="middle">
<text x="590.25" y="726.2">0</text>
<text x="710.66" y="726.2">50</text>
<text x="831.08" y="726.2">100</text>
<text x="951.5" y="726.2">150</text>
</g>
<text x="770.9" y="755.5" font-size="19.8" font-weight="bold" text-anchor="middle">DBP(mmHg)</text>
<text transform="translate(542.4 579.1) rotate(-90)" font-size="19.9" font-weight="bold" text-anchor="middle">Myoglobin(ng/mL)</text>
<text x="900.2" y="459.75" font-size="20.0" font-weight="bold" font-style="italic">R=0.113</text>
<text x="900.1" y="482.5" font-size="20.0" font-weight="bold" font-style="italic">p=0.06</text>
<text x="516.4" y="408.3" font-size="42" font-weight="bold">f</text>
</g>
<g id="pg">
<path d="M1258 643L1270 639L1285 641L1292 648L1288 657L1272 660L1259 656Z" fill="#000"/>
<g fill="#000">
<circle cx="1308.5" cy="503" r="2.7"/>
<circle cx="1251.9" cy="530.1" r="2.7"/>
<circle cx="1313.3" cy="537.6" r="2.7"/>
<circle cx="1266.1" cy="542" r="2.7"/>
<circle cx="1251.9" cy="544.3" r="2.7"/>
<circle cx="1249.6" cy="549.9" r="2.7"/>
<circle cx="1284.8" cy="548.8" r="2.7"/>
<circle cx="1273.2" cy="555.9" r="2.7"/>
<circle cx="1322.7" cy="560.7" r="2.7"/>
<circle cx="1256.4" cy="571.9" r="2.7"/>
<circle cx="1294.6" cy="577.6" r="2.7"/>
<circle cx="1322.7" cy="584.8" r="2.7"/>
<circle cx="1280" cy="588.1" r="2.7"/>
<circle cx="1284.8" cy="587.6" r="2.7"/>
<circle cx="1306.2" cy="591.8" r="2.7"/>
<circle cx="1336.9" cy="596.6" r="2.7"/>
<circle cx="1251.9" cy="593" r="2.7"/>
<circle cx="1254.1" cy="595.6" r="2.7"/>
<circle cx="1256.4" cy="597.5" r="2.7"/>
<circle cx="1261.2" cy="596.3" r="2.7"/>
<circle cx="1268.4" cy="595.6" r="2.7"/>
<circle cx="1278.1" cy="596" r="2.7"/>
<circle cx="1280.3" cy="596" r="2.7"/>
<circle cx="1249.6" cy="601.5" r="2.7"/>
<circle cx="1294.6" cy="602" r="2.7"/>
<circle cx="1322.7" cy="602" r="2.7"/>
<circle cx="1306" cy="605.3" r="2.7"/>
<circle cx="1214.3" cy="616.2" r="2.7"/>
<circle cx="1240.1" cy="611.5" r="2.7"/>
<circle cx="1209.3" cy="626.5" r="2.7"/>
<circle cx="1221.5" cy="627.6" r="2.7"/>
<circle cx="1228.6" cy="629.1" r="2.7"/>
<circle cx="1232.9" cy="625.1" r="2.7"/>
<circle cx="1211.5" cy="633.4" r="2.7"/>
<circle cx="1218.6" cy="633.7" r="2.7"/>
<circle cx="1344.2" cy="623.6" r="2.7"/>
<circle cx="1370" cy="629.4" r="2.7"/>
<circle cx="1356.1" cy="637.7" r="2.7"/>
<circle cx="1346.5" cy="640.5" r="2.7"/>
<circle cx="1332.2" cy="640.5" r="2.7"/>
<circle cx="1322.4" cy="632.2" r="2.7"/>
<circle cx="1322.4" cy="638" r="2.7"/>
<circle cx="1322.4" cy="641.5" r="2.7"/>
<circle cx="1322.4" cy="645.8" r="2.7"/>
<circle cx="1318.1" cy="648.7" r="2.7"/>
<circle cx="1313.1" cy="651.6" r="2.7"/>
<circle cx="1311" cy="655.9" r="2.7"/>
<circle cx="1327.4" cy="656.3" r="2.7"/>
<circle cx="1330.3" cy="657.3" r="2.7"/>
<circle cx="1334.6" cy="658.7" r="2.7"/>
<circle cx="1336.8" cy="651.6" r="2.7"/>
<circle cx="1339.3" cy="653.7" r="2.7"/>
<circle cx="1308.8" cy="645.1" r="2.7"/>
<circle cx="1308.1" cy="622.2" r="2.7"/>
<circle cx="1309.5" cy="620.1" r="2.7"/>
<circle cx="1314.6" cy="616.5" r="2.7"/>
<circle cx="1317.4" cy="612.9" r="2.7"/>
<circle cx="1321" cy="612.2" r="2.7"/>
<circle cx="1321" cy="619.3" r="2.7"/>
<circle cx="1301" cy="612.9" r="2.7"/>
<circle cx="1294.5" cy="612.2" r="2.7"/>
<circle cx="1221.1" cy="661.2" r="2.7"/>
<circle cx="1229.4" cy="661.2" r="2.7"/>
<circle cx="1242.3" cy="657.3" r="2.7"/>
<circle cx="1252" cy="659.1" r="2.7"/>
<circle cx="1254.4" cy="667.3" r="2.7"/>
<circle cx="1275.2" cy="666.3" r="2.7"/>
<circle cx="1283.8" cy="664.4" r="2.7"/>
<circle cx="1289.5" cy="662.3" r="2.7"/>
<circle cx="1268" cy="663" r="2.7"/>
<circle cx="1252" cy="698.4" r="2.7"/>
<circle cx="1266.7" cy="621.8" r="2.7"/>
<circle cx="1294.1" cy="635.1" r="2.7"/>
<circle cx="1237.7" cy="626.9" r="2.7"/>
<circle cx="1276.5" cy="609.1" r="2.7"/>
<circle cx="1270.4" cy="662.1" r="2.7"/>
<circle cx="1260.4" cy="650.8" r="2.7"/>
<circle cx="1272.8" cy="639.3" r="2.7"/>
<circle cx="1239.7" cy="631.7" r="2.7"/>
<circle cx="1297.1" cy="645.1" r="2.7"/>
<circle cx="1243.1" cy="630.6" r="2.7"/>
<circle cx="1268.9" cy="623.6" r="2.7"/>
<circle cx="1271.6" cy="642.4" r="2.7"/>
<circle cx="1277.9" cy="615.7" r="2.7"/>
<circle cx="1231.7" cy="650.8" r="2.7"/>
<circle cx="1252.4" cy="663.3" r="2.7"/>
<circle cx="1270.1" cy="608.5" r="2.7"/>
<circle cx="1276.3" cy="618.8" r="2.7"/>
<circle cx="1290.3" cy="648.3" r="2.7"/>
<circle cx="1285.9" cy="605.7" r="2.7"/>
<circle cx="1263.4" cy="663.3" r="2.7"/>
<circle cx="1251.4" cy="618.6" r="2.7"/>
<circle cx="1291.4" cy="613.8" r="2.7"/>
<circle cx="1276.2" cy="641.4" r="2.7"/>
<circle cx="1270.5" cy="626.5" r="2.7"/>
<circle cx="1291.1" cy="618.1" r="2.7"/>
<circle cx="1282.5" cy="613.9" r="2.7"/>
<circle cx="1265.1" cy="664" r="2.7"/>
<circle cx="1245" cy="619.8" r="2.7"/>
<circle cx="1298.5" cy="645.2" r="2.7"/>
<circle cx="1244.7" cy="620.6" r="2.7"/>
<circle cx="1292.7" cy="646.8" r="2.7"/>
<circle cx="1275.6" cy="626.5" r="2.7"/>
<circle cx="1282.7" cy="633.6" r="2.7"/>
<circle cx="1230.7" cy="633.5" r="2.7"/>
<circle cx="1256.3" cy="636" r="2.7"/>
<circle cx="1303.6" cy="625.8" r="2.7"/>
<circle cx="1252.1" cy="611.5" r="2.7"/>
<circle cx="1272.8" cy="660.5" r="2.7"/>
<circle cx="1240.2" cy="634" r="2.7"/>
<circle cx="1265.5" cy="651" r="2.7"/>
<circle cx="1270.6" cy="617.3" r="2.7"/>
<circle cx="1241" cy="648.4" r="2.7"/>
<circle cx="1263" cy="656" r="2.7"/>
<circle cx="1275" cy="649.7" r="2.7"/>
<circle cx="1286.1" cy="648.2" r="2.7"/>
<circle cx="1230.1" cy="654.8" r="2.7"/>
<circle cx="1295.3" cy="626.4" r="2.7"/>
<circle cx="1292.9" cy="640.5" r="2.7"/>
<circle cx="1241.8" cy="643" r="2.7"/>
<circle cx="1268.3" cy="626" r="2.7"/>
<circle cx="1237.8" cy="638.4" r="2.7"/>
<circle cx="1266.1" cy="626.8" r="2.7"/>
<circle cx="1263.5" cy="604.5" r="2.7"/>
<circle cx="1274.6" cy="614.4" r="2.7"/>
<circle cx="1296.1" cy="639.6" r="2.7"/>
<circle cx="1257" cy="636.7" r="2.7"/>
<circle cx="1256.3" cy="647.3" r="2.7"/>
<circle cx="1255.4" cy="647.2" r="2.7"/>
<circle cx="1248.5" cy="620.7" r="2.7"/>
<circle cx="1285.3" cy="652.2" r="2.7"/>
<circle cx="1281.3" cy="661.2" r="2.7"/>
<circle cx="1240.7" cy="627.2" r="2.7"/>
<circle cx="1293.4" cy="651" r="2.7"/>
<circle cx="1284.5" cy="657.4" r="2.7"/>
<circle cx="1254.6" cy="640.7" r="2.7"/>
<circle cx="1271.6" cy="659" r="2.7"/>
<circle cx="1277.8" cy="663.5" r="2.7"/>
<circle cx="1237.4" cy="627.8" r="2.7"/>
<circle cx="1270.6" cy="610.4" r="2.7"/>
<circle cx="1287.7" cy="606" r="2.7"/>
<circle cx="1275.7" cy="619.9" r="2.7"/>
<circle cx="1251.5" cy="640.8" r="2.7"/>
<circle cx="1241.1" cy="630.6" r="2.7"/>
<circle cx="1246.7" cy="625.4" r="2.7"/>
<circle cx="1280.8" cy="614.1" r="2.7"/>
<circle cx="1293.1" cy="614.7" r="2.7"/>
<circle cx="1270" cy="623.7" r="2.7"/>
<circle cx="1276.4" cy="606.2" r="2.7"/>
<circle cx="1282.6" cy="616.9" r="2.7"/>
<circle cx="1264" cy="648.2" r="2.7"/>
<circle cx="1259.3" cy="622.3" r="2.7"/>
<circle cx="1257.4" cy="622" r="2.7"/>
<circle cx="1284.6" cy="631.6" r="2.7"/>
<circle cx="1280.2" cy="611.7" r="2.7"/>
<circle cx="1242" cy="641.5" r="2.7"/>
<circle cx="1258.7" cy="613.7" r="2.7"/>
<circle cx="1283.7" cy="638.6" r="2.7"/>
<circle cx="1291.1" cy="645.8" r="2.7"/>
<circle cx="1269.3" cy="656.8" r="2.7"/>
<circle cx="1255.4" cy="609.2" r="2.7"/>
<circle cx="1276.7" cy="603.6" r="2.7"/>
<circle cx="1268" cy="610.2" r="2.7"/>
<circle cx="1273.7" cy="654.7" r="2.7"/>
<circle cx="1253.2" cy="609.7" r="2.7"/>
<circle cx="1279" cy="648.6" r="2.7"/>
<circle cx="1295.8" cy="637.5" r="2.7"/>
<circle cx="1272" cy="657.2" r="2.7"/>
<circle cx="1248.7" cy="651.6" r="2.7"/>
<circle cx="1276" cy="632" r="2.7"/>
<circle cx="1246.8" cy="640.5" r="2.7"/>
<circle cx="1266.2" cy="634.7" r="2.7"/>
<circle cx="1273.9" cy="645.7" r="2.7"/>
<circle cx="1248.9" cy="631.2" r="2.7"/>
<circle cx="1266" cy="653.5" r="2.7"/>
<circle cx="1257.2" cy="660.9" r="2.7"/>
<circle cx="1264.2" cy="627.5" r="2.7"/>
<circle cx="1263.9" cy="624.9" r="2.7"/>
<circle cx="1257.6" cy="607.1" r="2.7"/>
<circle cx="1279.6" cy="611.6" r="2.7"/>
<circle cx="1237.8" cy="629.1" r="2.7"/>
<circle cx="1273.6" cy="650.9" r="2.7"/>
<circle cx="1261.1" cy="620.9" r="2.7"/>
<circle cx="1255.1" cy="658.9" r="2.7"/>
<circle cx="1296" cy="632.9" r="2.7"/>
<circle cx="1296.3" cy="649.9" r="2.7"/>
<circle cx="1231.1" cy="645.2" r="2.7"/>
<circle cx="1242.9" cy="630.5" r="2.7"/>
<circle cx="1273.8" cy="605.3" r="2.7"/>
<circle cx="1299.9" cy="623.5" r="2.7"/>
<circle cx="1237.4" cy="651.9" r="2.7"/>
<circle cx="1277.5" cy="632.1" r="2.7"/>
<circle cx="1297.1" cy="652.6" r="2.7"/>
<circle cx="1273.7" cy="632.1" r="2.7"/>
<circle cx="1249.8" cy="660.7" r="2.7"/>
<circle cx="1242.5" cy="643.2" r="2.7"/>
<circle cx="1301" cy="641.6" r="2.7"/>
<circle cx="1251.3" cy="648.3" r="2.7"/>
<circle cx="1297.4" cy="652.9" r="2.7"/>
<circle cx="1229.2" cy="634.3" r="2.7"/>
<circle cx="1237.1" cy="637" r="2.7"/>
<circle cx="1245.7" cy="637.3" r="2.7"/>
<circle cx="1251.1" cy="612.8" r="2.7"/>
<circle cx="1284.8" cy="650.6" r="2.7"/>
<circle cx="1252.6" cy="628.9" r="2.7"/>
<circle cx="1281" cy="648.6" r="2.7"/>
<circle cx="1262.6" cy="609.6" r="2.7"/>
<circle cx="1291.3" cy="633.8" r="2.7"/>
<circle cx="1276.9" cy="625.3" r="2.7"/>
<circle cx="1255.1" cy="613.3" r="2.7"/>
<circle cx="1303" cy="640.8" r="2.7"/>
<circle cx="1236.2" cy="647" r="2.7"/>
<circle cx="1273.2" cy="641.2" r="2.7"/>
<circle cx="1286.8" cy="640.9" r="2.7"/>
<circle cx="1258.1" cy="643.5" r="2.7"/>
<circle cx="1255.6" cy="628.3" r="2.7"/>
<circle cx="1254.9" cy="643.4" r="2.7"/>
<circle cx="1253.8" cy="624.5" r="2.7"/>
<circle cx="1292.9" cy="653.2" r="2.7"/>
<circle cx="1279.4" cy="656" r="2.7"/>
<circle cx="1256.5" cy="643.1" r="2.7"/>
<circle cx="1245.8" cy="622.2" r="2.7"/>
<circle cx="1234" cy="653.1" r="2.7"/>
<circle cx="1298.8" cy="621.4" r="2.7"/>
<circle cx="1255.9" cy="609.5" r="2.7"/>
<circle cx="1237.2" cy="642.8" r="2.7"/>
<circle cx="1246.1" cy="650.6" r="2.7"/>
<circle cx="1243.8" cy="658.2" r="2.7"/>
<circle cx="1253.9" cy="632.3" r="2.7"/>
<circle cx="1241.9" cy="620.6" r="2.7"/>
<circle cx="1259.5" cy="619.8" r="2.7"/>
<circle cx="1283.6" cy="603.9" r="2.7"/>
<circle cx="1276.5" cy="653.4" r="2.7"/>
<circle cx="1251.8" cy="614.3" r="2.7"/>
<circle cx="1288.6" cy="640.6" r="2.7"/>
<circle cx="1273.3" cy="622.4" r="2.7"/>
<circle cx="1253.9" cy="664.2" r="2.7"/>
<circle cx="1254.4" cy="661" r="2.7"/>
<circle cx="1294.6" cy="638.8" r="2.7"/>
<circle cx="1236" cy="653.7" r="2.7"/>
<circle cx="1233.1" cy="637.7" r="2.7"/>
<circle cx="1258.4" cy="612" r="2.7"/>
<circle cx="1304.4" cy="639" r="2.7"/>
<circle cx="1285.9" cy="643.3" r="2.7"/>
<circle cx="1263.4" cy="651.8" r="2.7"/>
<circle cx="1278.9" cy="612.1" r="2.7"/>
<circle cx="1267.9" cy="628.5" r="2.7"/>
<circle cx="1266.7" cy="647.6" r="2.7"/>
<circle cx="1280.4" cy="638.5" r="2.7"/>
<circle cx="1288.3" cy="654.8" r="2.7"/>
<circle cx="1301.8" cy="621.8" r="2.7"/>
<circle cx="1260.7" cy="631.8" r="2.7"/>
<circle cx="1270.6" cy="619.9" r="2.7"/>
<circle cx="1287.5" cy="623.2" r="2.7"/>
<circle cx="1292.8" cy="653.4" r="2.7"/>
<circle cx="1286.7" cy="639.8" r="2.7"/>
<circle cx="1278.7" cy="628.4" r="2.7"/>
<circle cx="1267.1" cy="615" r="2.7"/>
<circle cx="1262.5" cy="618.5" r="2.7"/>
<circle cx="1279.4" cy="608.8" r="2.7"/>
<circle cx="1268.1" cy="639.2" r="2.7"/>
<circle cx="1292" cy="626.3" r="2.7"/>
<circle cx="1238.5" cy="654.9" r="2.7"/>
<circle cx="1285.7" cy="654.4" r="2.7"/>
<circle cx="1300" cy="615.4" r="2.7"/>
<circle cx="1244.3" cy="659.6" r="2.7"/>
<circle cx="1297.9" cy="632.3" r="2.7"/>
<circle cx="1236.1" cy="624.6" r="2.7"/>
<circle cx="1245.1" cy="643.5" r="2.7"/>
<circle cx="1282.9" cy="651.7" r="2.7"/>
<circle cx="1260.5" cy="631.2" r="2.7"/>
<circle cx="1263" cy="625.7" r="2.7"/>
<circle cx="1262" cy="645.9" r="2.7"/>
<circle cx="1282.2" cy="622.9" r="2.7"/>
<circle cx="1270.8" cy="611.3" r="2.7"/>
<circle cx="1232.3" cy="629.2" r="2.7"/>
<circle cx="1255.1" cy="621.9" r="2.7"/>
<circle cx="1236.8" cy="639.8" r="2.7"/>
<circle cx="1292.3" cy="626.4" r="2.7"/>
<circle cx="1244.2" cy="648.3" r="2.7"/>
<circle cx="1288.5" cy="607.3" r="2.7"/>
<circle cx="1240.9" cy="622.2" r="2.7"/>
<circle cx="1286.7" cy="649.2" r="2.7"/>
<circle cx="1249.9" cy="630.9" r="2.7"/>
<circle cx="1254.1" cy="632.2" r="2.7"/>
<circle cx="1288.7" cy="618.8" r="2.7"/>
<circle cx="1273.5" cy="663.4" r="2.7"/>
<circle cx="1289.6" cy="609.8" r="2.7"/>
<circle cx="1249.9" cy="630.3" r="2.7"/>
<circle cx="1292.3" cy="645.6" r="2.7"/>
<circle cx="1242.1" cy="659.5" r="2.7"/>
<circle cx="1294.4" cy="634.6" r="2.7"/>
<circle cx="1249.1" cy="628.8" r="2.7"/>
<circle cx="1300.5" cy="640.1" r="2.7"/>
<circle cx="1290.7" cy="606.6" r="2.7"/>
<circle cx="1245.4" cy="648.8" r="2.7"/>
<circle cx="1252.9" cy="616.6" r="2.7"/>
<circle cx="1258.6" cy="637" r="2.7"/>
<circle cx="1257.6" cy="638.2" r="2.7"/>
<circle cx="1279.3" cy="623.5" r="2.7"/>
<circle cx="1264.8" cy="626.2" r="2.7"/>
<circle cx="1259.8" cy="636.6" r="2.7"/>
<circle cx="1261.3" cy="643.9" r="2.7"/>
<circle cx="1271.4" cy="635.6" r="2.7"/>
<circle cx="1293.3" cy="645.8" r="2.7"/>
<circle cx="1269.4" cy="650.8" r="2.7"/>
<circle cx="1288.2" cy="651.7" r="2.7"/>
<circle cx="1272.1" cy="645.3" r="2.7"/>
<circle cx="1286.3" cy="650.1" r="2.7"/>
<circle cx="1288.6" cy="660.1" r="2.7"/>
<circle cx="1294.2" cy="656.8" r="2.7"/>
<circle cx="1282.1" cy="648.8" r="2.7"/>
<circle cx="1274.3" cy="652.4" r="2.7"/>
<circle cx="1273.9" cy="659.6" r="2.7"/>
<circle cx="1286.4" cy="653.5" r="2.7"/>
<circle cx="1277.9" cy="662.2" r="2.7"/>
<circle cx="1247.7" cy="649.3" r="2.7"/>
<circle cx="1265.6" cy="663.5" r="2.7"/>
<circle cx="1254.1" cy="651.9" r="2.7"/>
<circle cx="1252.9" cy="657.6" r="2.7"/>
<circle cx="1271.9" cy="657.1" r="2.7"/>
<circle cx="1261.9" cy="661.5" r="2.7"/>
<circle cx="1285.3" cy="661.4" r="2.7"/>
<circle cx="1287.7" cy="643.3" r="2.7"/>
<circle cx="1285.2" cy="636.8" r="2.7"/>
<circle cx="1296.4" cy="650.8" r="2.7"/>
<circle cx="1263.6" cy="638.1" r="2.7"/>
<circle cx="1251.8" cy="648.4" r="2.7"/>
<circle cx="1260" cy="655.2" r="2.7"/>
<circle cx="1251" cy="645" r="2.7"/>
<circle cx="1267.6" cy="649.2" r="2.7"/>
<circle cx="1268.9" cy="652.9" r="2.7"/>
<circle cx="1257.6" cy="642.3" r="2.7"/>
<circle cx="1270.3" cy="654.3" r="2.7"/>
<circle cx="1278.3" cy="645.5" r="2.7"/>
<circle cx="1256.5" cy="656.9" r="2.7"/>
<circle cx="1258" cy="642.3" r="2.7"/>
<circle cx="1288.3" cy="661.9" r="2.7"/>
<circle cx="1259.5" cy="638.1" r="2.7"/>
<circle cx="1284.4" cy="649.2" r="2.7"/>
<circle cx="1286.1" cy="658" r="2.7"/>
</g>
<path d="M1086.25 463.1V699.25H1441.3" fill="none" stroke="#000" stroke-width="2.2" stroke-linecap="square"/>
<path d="M1086.25 699.25v7M1204.6 699.25v7M1322.95 699.25v7M1441.3 699.25v7M1086.25 699.25h-7M1086.25 640.21h-7M1086.25 581.17h-7M1086.25 522.14h-7M1086.25 463.1h-7" stroke="#000" stroke-width="2.2" fill="none"/>
<line x1="1209.57" y1="638.5" x2="1368.63" y2="625.45" stroke="#000" stroke-width="1.9"/>
<g font-size="17.8" font-weight="bold" text-anchor="end">
<text x="1076.65" y="704.62">0</text>
<text x="1076.65" y="645.58">200</text>
<text x="1076.65" y="586.55">400</text>
<text x="1076.65" y="527.51">600</text>
<text x="1076.65" y="468.47">800</text>
</g>
<g font-size="17.8" font-weight="bold" text-anchor="middle">
<text x="1086.25" y="725.55">0</text>
<text x="1204.6" y="725.55">50</text>
<text x="1322.95" y="725.55">100</text>
<text x="1441.3" y="725.55">150</text>
</g>
<text x="1264" y="754" font-size="19.6" font-weight="bold" text-anchor="middle">DBP(mmHg)</text>
<text transform="translate(1040.8 581.2) rotate(-90)" font-size="19.6" font-weight="bold" text-anchor="middle">LDH(U/L)</text>
<text x="1378.6" y="464" font-size="19.3" font-weight="bold" font-style="italic">R=0.089</text>
<text x="1378.5" y="486" font-size="19.3" font-weight="bold" font-style="italic">p=0.09</text>
<text x="1014.2" y="408.3" font-size="42" font-weight="bold">g</text>
</g>
<g id="ph">
<g fill="#000">
<circle cx="1775.6" cy="504.5" r="2.7"/>
<circle cx="1775.6" cy="524.7" r="2.7"/>
<circle cx="1732.2" cy="536.9" r="2.7"/>
<circle cx="1724.7" cy="560.7" r="2.7"/>
<circle cx="1732.2" cy="564.9" r="2.7"/>
<circle cx="1756.3" cy="568.9" r="2.7"/>
<circle cx="1688.8" cy="580.9" r="2.7"/>
<circle cx="1730" cy="576.8" r="2.7"/>
<circle cx="1730" cy="580.9" r="2.7"/>
<circle cx="1804.5" cy="580.9" r="2.7"/>
<circle cx="1756.3" cy="583.9" r="2.7"/>
<circle cx="1761.4" cy="589.1" r="2.7"/>
<circle cx="1746.9" cy="593" r="2.7"/>
<circle cx="1761.4" cy="595.9" r="2.7"/>
<circle cx="1787.6" cy="593" r="2.7"/>
<circle cx="1794.8" cy="597.1" r="2.7"/>
<circle cx="1802.3" cy="597.1" r="2.7"/>
<circle cx="1826.5" cy="597.5" r="2.7"/>
<circle cx="1727.4" cy="597.1" r="2.7"/>
<circle cx="1756.3" cy="601.1" r="2.7"/>
<circle cx="1775.6" cy="601.1" r="2.7"/>
<circle cx="1727.7" cy="606.7" r="2.7"/>
<circle cx="1770.9" cy="608.6" r="2.7"/>
<circle cx="1742" cy="614.3" r="2.7"/>
<circle cx="1765.9" cy="612.9" r="2.7"/>
<circle cx="1770.2" cy="614.3" r="2.7"/>
<circle cx="1765.9" cy="617.2" r="2.7"/>
<circle cx="1790.3" cy="612.9" r="2.7"/>
<circle cx="1797.4" cy="612.9" r="2.7"/>
<circle cx="1804.6" cy="612.9" r="2.7"/>
<circle cx="1708.2" cy="617.6" r="2.7"/>
<circle cx="1712.9" cy="617.2" r="2.7"/>
<circle cx="1708.2" cy="625.1" r="2.7"/>
<circle cx="1712.9" cy="625.1" r="2.7"/>
<circle cx="1693.6" cy="629.1" r="2.7"/>
<circle cx="1691" cy="637.2" r="2.7"/>
<circle cx="1720.1" cy="629.1" r="2.7"/>
<circle cx="1725.1" cy="625.1" r="2.7"/>
<circle cx="1732.3" cy="620.8" r="2.7"/>
<circle cx="1775.7" cy="621.1" r="2.7"/>
<circle cx="1795" cy="624.8" r="2.7"/>
<circle cx="1791" cy="627.9" r="2.7"/>
<circle cx="1788.8" cy="632.5" r="2.7"/>
<circle cx="1795" cy="635.4" r="2.7"/>
<circle cx="1804.6" cy="632.9" r="2.7"/>
<circle cx="1804.6" cy="641.1" r="2.7"/>
<circle cx="1788.1" cy="640.5" r="2.7"/>
<circle cx="1819.3" cy="645.1" r="2.7"/>
<circle cx="1700.8" cy="645.1" r="2.7"/>
<circle cx="1698.2" cy="653.4" r="2.7"/>
<circle cx="1700.8" cy="665.2" r="2.7"/>
<circle cx="1708.2" cy="668.7" r="2.7"/>
<circle cx="1710.1" cy="673" r="2.7"/>
<circle cx="1717.7" cy="677.3" r="2.7"/>
<circle cx="1722.5" cy="673.5" r="2.7"/>
<circle cx="1710.5" cy="689.5" r="2.7"/>
<circle cx="1732.3" cy="691.6" r="2.7"/>
<circle cx="1738" cy="691.6" r="2.7"/>
<circle cx="1750.9" cy="693.1" r="2.7"/>
<circle cx="1765.9" cy="695.5" r="2.7"/>
<circle cx="1769.2" cy="689.5" r="2.7"/>
<circle cx="1775.2" cy="691.2" r="2.7"/>
<circle cx="1781" cy="690.9" r="2.7"/>
<circle cx="1785.3" cy="691.2" r="2.7"/>
<circle cx="1814.2" cy="693.5" r="2.7"/>
<circle cx="1828.9" cy="691.6" r="2.7"/>
<circle cx="1838.5" cy="661.6" r="2.7"/>
<circle cx="1852.8" cy="661.6" r="2.7"/>
<circle cx="1821.3" cy="653" r="2.7"/>
<circle cx="1828.5" cy="653.4" r="2.7"/>
<circle cx="1804.6" cy="662" r="2.7"/>
<circle cx="1804.6" cy="663.7" r="2.7"/>
<circle cx="1811.7" cy="665.2" r="2.7"/>
<circle cx="1816" cy="669.2" r="2.7"/>
<circle cx="1819.6" cy="668.7" r="2.7"/>
<circle cx="1797.4" cy="678" r="2.7"/>
<circle cx="1799.6" cy="680.9" r="2.7"/>
<circle cx="1802.1" cy="677.3" r="2.7"/>
<circle cx="1790.3" cy="673.5" r="2.7"/>
<circle cx="1790.3" cy="665.2" r="2.7"/>
<circle cx="1795" cy="648" r="2.7"/>
<circle cx="1804.6" cy="649.1" r="2.7"/>
<circle cx="1809.6" cy="649.1" r="2.7"/>
<circle cx="1742" cy="684.9" r="2.7"/>
<circle cx="1746.6" cy="680.9" r="2.7"/>
<circle cx="1755.9" cy="685.2" r="2.7"/>
<circle cx="1769.5" cy="680.9" r="2.7"/>
<circle cx="1736.6" cy="680.9" r="2.7"/>
<circle cx="1754" cy="644.6" r="2.7"/>
<circle cx="1754.8" cy="665.8" r="2.7"/>
<circle cx="1744.2" cy="664.5" r="2.7"/>
<circle cx="1738.2" cy="642.2" r="2.7"/>
<circle cx="1772" cy="674.3" r="2.7"/>
<circle cx="1757" cy="634" r="2.7"/>
<circle cx="1765.8" cy="675.1" r="2.7"/>
<circle cx="1730.2" cy="669.5" r="2.7"/>
<circle cx="1752.9" cy="678.3" r="2.7"/>
<circle cx="1779.5" cy="654.1" r="2.7"/>
<circle cx="1762.8" cy="665.9" r="2.7"/>
<circle cx="1763.8" cy="649.9" r="2.7"/>
<circle cx="1760.9" cy="633.7" r="2.7"/>
<circle cx="1774.7" cy="669.1" r="2.7"/>
<circle cx="1769.5" cy="655" r="2.7"/>
<circle cx="1737.9" cy="654.4" r="2.7"/>
<circle cx="1763.1" cy="659.6" r="2.7"/>
<circle cx="1748.1" cy="643.2" r="2.7"/>
<circle cx="1739" cy="642" r="2.7"/>
<circle cx="1749" cy="667.5" r="2.7"/>
<circle cx="1775.4" cy="666.5" r="2.7"/>
<circle cx="1759.3" cy="669.5" r="2.7"/>
<circle cx="1759.5" cy="649.1" r="2.7"/>
<circle cx="1745" cy="633.9" r="2.7"/>
<circle cx="1762.2" cy="632.9" r="2.7"/>
<circle cx="1763.1" cy="679.2" r="2.7"/>
<circle cx="1762.4" cy="662.7" r="2.7"/>
<circle cx="1759.6" cy="664.5" r="2.7"/>
<circle cx="1772.7" cy="663.1" r="2.7"/>
<circle cx="1771" cy="663.7" r="2.7"/>
<circle cx="1772.2" cy="671.7" r="2.7"/>
<circle cx="1774.6" cy="651.4" r="2.7"/>
<circle cx="1727.6" cy="647.6" r="2.7"/>
<circle cx="1747.9" cy="644.8" r="2.7"/>
<circle cx="1763.6" cy="635.3" r="2.7"/>
<circle cx="1743.2" cy="651.3" r="2.7"/>
<circle cx="1733.6" cy="662.3" r="2.7"/>
<circle cx="1749.4" cy="673.3" r="2.7"/>
<circle cx="1737.4" cy="658.7" r="2.7"/>
<circle cx="1743" cy="678.4" r="2.7"/>
<circle cx="1742.5" cy="656.4" r="2.7"/>
<circle cx="1754.8" cy="644.4" r="2.7"/>
<circle cx="1755.3" cy="633.5" r="2.7"/>
<circle cx="1745.5" cy="645.4" r="2.7"/>
<circle cx="1770.2" cy="671.6" r="2.7"/>
<circle cx="1764.1" cy="662.1" r="2.7"/>
<circle cx="1772.9" cy="670" r="2.7"/>
<circle cx="1766.6" cy="675.4" r="2.7"/>
<circle cx="1735.4" cy="660.6" r="2.7"/>
<circle cx="1760.1" cy="662.7" r="2.7"/>
<circle cx="1754" cy="644.5" r="2.7"/>
<circle cx="1779" cy="650.8" r="2.7"/>
<circle cx="1730.7" cy="666.1" r="2.7"/>
<circle cx="1740.8" cy="641.8" r="2.7"/>
<circle cx="1743" cy="662.8" r="2.7"/>
<circle cx="1744" cy="665.9" r="2.7"/>
<circle cx="1740.4" cy="674.5" r="2.7"/>
<circle cx="1731.8" cy="661.4" r="2.7"/>
<circle cx="1765" cy="658.5" r="2.7"/>
<circle cx="1770.4" cy="656.8" r="2.7"/>
<circle cx="1764.1" cy="632.1" r="2.7"/>
<circle cx="1754.9" cy="680" r="2.7"/>
<circle cx="1762.9" cy="636.3" r="2.7"/>
<circle cx="1765.2" cy="667.9" r="2.7"/>
<circle cx="1744.5" cy="671.7" r="2.7"/>
<circle cx="1757.7" cy="652.3" r="2.7"/>
<circle cx="1754.9" cy="644.9" r="2.7"/>
<circle cx="1742.2" cy="678" r="2.7"/>
<circle cx="1745.5" cy="671.6" r="2.7"/>
<circle cx="1746.4" cy="640.3" r="2.7"/>
<circle cx="1758.2" cy="633.4" r="2.7"/>
<circle cx="1759.5" cy="663.6" r="2.7"/>
<circle cx="1777.6" cy="646" r="2.7"/>
<circle cx="1739.4" cy="641.9" r="2.7"/>
<circle cx="1753.2" cy="652.7" r="2.7"/>
<circle cx="1746.5" cy="681.4" r="2.7"/>
<circle cx="1743.6" cy="674.7" r="2.7"/>
<circle cx="1755.2" cy="635.6" r="2.7"/>
<circle cx="1764.2" cy="642.6" r="2.7"/>
<circle cx="1763.4" cy="675" r="2.7"/>
<circle cx="1765.5" cy="643.2" r="2.7"/>
<circle cx="1755.7" cy="632.8" r="2.7"/>
<circle cx="1746.5" cy="679.1" r="2.7"/>
<circle cx="1730.6" cy="645.9" r="2.7"/>
<circle cx="1745.7" cy="634.4" r="2.7"/>
<circle cx="1745.9" cy="641" r="2.7"/>
<circle cx="1750" cy="663.3" r="2.7"/>
<circle cx="1761.9" cy="635.2" r="2.7"/>
<circle cx="1755.3" cy="633" r="2.7"/>
<circle cx="1750.4" cy="673.6" r="2.7"/>
<circle cx="1740.9" cy="674.4" r="2.7"/>
<circle cx="1739.9" cy="651.2" r="2.7"/>
<circle cx="1756.4" cy="659" r="2.7"/>
<circle cx="1764.9" cy="681.2" r="2.7"/>
<circle cx="1763.8" cy="642.1" r="2.7"/>
<circle cx="1737.5" cy="656" r="2.7"/>
<circle cx="1741.9" cy="659.9" r="2.7"/>
<circle cx="1731.7" cy="667.5" r="2.7"/>
<circle cx="1749.1" cy="632.7" r="2.7"/>
<circle cx="1736" cy="669.2" r="2.7"/>
<circle cx="1776.9" cy="641.3" r="2.7"/>
<circle cx="1759.1" cy="655.7" r="2.7"/>
<circle cx="1733.1" cy="664.7" r="2.7"/>
<circle cx="1734.3" cy="637.2" r="2.7"/>
<circle cx="1758.5" cy="664.7" r="2.7"/>
<circle cx="1769.4" cy="674.6" r="2.7"/>
<circle cx="1734.3" cy="646.4" r="2.7"/>
<circle cx="1734.6" cy="656.5" r="2.7"/>
<circle cx="1763.1" cy="673.7" r="2.7"/>
<circle cx="1752.9" cy="679.3" r="2.7"/>
<circle cx="1771.2" cy="674.8" r="2.7"/>
<circle cx="1769.7" cy="641.7" r="2.7"/>
<circle cx="1745.3" cy="633" r="2.7"/>
<circle cx="1767.5" cy="655.6" r="2.7"/>
<circle cx="1749.8" cy="676.8" r="2.7"/>
<circle cx="1741.4" cy="663.3" r="2.7"/>
<circle cx="1730.4" cy="666.5" r="2.7"/>
<circle cx="1777.5" cy="657.3" r="2.7"/>
<circle cx="1734.7" cy="660.7" r="2.7"/>
<circle cx="1730.5" cy="654.9" r="2.7"/>
<circle cx="1731.2" cy="652.5" r="2.7"/>
<circle cx="1770.3" cy="669.9" r="2.7"/>
<circle cx="1772.2" cy="654.7" r="2.7"/>
<circle cx="1750.4" cy="633" r="2.7"/>
<circle cx="1768.8" cy="660.8" r="2.7"/>
<circle cx="1748.6" cy="637.8" r="2.7"/>
<circle cx="1751.3" cy="633.4" r="2.7"/>
<circle cx="1749.5" cy="637.4" r="2.7"/>
<circle cx="1770.8" cy="662.9" r="2.7"/>
<circle cx="1772.9" cy="659.9" r="2.7"/>
<circle cx="1735.5" cy="644.9" r="2.7"/>
<circle cx="1771.5" cy="661.6" r="2.7"/>
<circle cx="1761.3" cy="664.2" r="2.7"/>
<circle cx="1749.9" cy="675.6" r="2.7"/>
<circle cx="1777" cy="661.9" r="2.7"/>
<circle cx="1756.6" cy="652.1" r="2.7"/>
<circle cx="1776.3" cy="641.2" r="2.7"/>
<circle cx="1773.2" cy="638.3" r="2.7"/>
<circle cx="1740.1" cy="663.2" r="2.7"/>
<circle cx="1775.3" cy="670.3" r="2.7"/>
<circle cx="1741.8" cy="662.8" r="2.7"/>
<circle cx="1742.3" cy="671" r="2.7"/>
<circle cx="1740.7" cy="676.9" r="2.7"/>
<circle cx="1763" cy="678.2" r="2.7"/>
<circle cx="1757.9" cy="643.9" r="2.7"/>
<circle cx="1761.3" cy="646.8" r="2.7"/>
<circle cx="1759.4" cy="643.1" r="2.7"/>
<circle cx="1732.3" cy="671.9" r="2.7"/>
<circle cx="1734.5" cy="670.8" r="2.7"/>
<circle cx="1741.5" cy="649.6" r="2.7"/>
<circle cx="1759" cy="680.5" r="2.7"/>
<circle cx="1760" cy="661.4" r="2.7"/>
<circle cx="1744.2" cy="650.5" r="2.7"/>
<circle cx="1757.2" cy="643.3" r="2.7"/>
<circle cx="1761" cy="676.7" r="2.7"/>
<circle cx="1765.2" cy="642.2" r="2.7"/>
<circle cx="1728.5" cy="649.8" r="2.7"/>
<circle cx="1750" cy="675.7" r="2.7"/>
<circle cx="1756" cy="658" r="2.7"/>
<circle cx="1759.1" cy="659.9" r="2.7"/>
<circle cx="1762.9" cy="660.1" r="2.7"/>
<circle cx="1756.3" cy="642.7" r="2.7"/>
<circle cx="1733.5" cy="653.7" r="2.7"/>
<circle cx="1742.5" cy="661" r="2.7"/>
<circle cx="1754.5" cy="654.5" r="2.7"/>
<circle cx="1736.4" cy="672.6" r="2.7"/>
<circle cx="1731.5" cy="642.3" r="2.7"/>
<circle cx="1741.8" cy="641" r="2.7"/>
<circle cx="1754.7" cy="639.3" r="2.7"/>
<circle cx="1761.1" cy="662.4" r="2.7"/>
<circle cx="1760.1" cy="655.9" r="2.7"/>
<circle cx="1759.5" cy="646" r="2.7"/>
<circle cx="1751.6" cy="667.2" r="2.7"/>
<circle cx="1738.4" cy="669.6" r="2.7"/>
<circle cx="1758" cy="682.6" r="2.7"/>
<circle cx="1759.7" cy="659.6" r="2.7"/>
<circle cx="1767.7" cy="645.6" r="2.7"/>
<circle cx="1746.7" cy="653.3" r="2.7"/>
<circle cx="1765.9" cy="668.8" r="2.7"/>
<circle cx="1779.1" cy="656.8" r="2.7"/>
<circle cx="1747.4" cy="634.7" r="2.7"/>
<circle cx="1765.1" cy="663.3" r="2.7"/>
<circle cx="1768.5" cy="653.6" r="2.7"/>
<circle cx="1766.3" cy="662.6" r="2.7"/>
<circle cx="1760.6" cy="659.6" r="2.7"/>
<circle cx="1762.4" cy="660.2" r="2.7"/>
<circle cx="1731.8" cy="666.4" r="2.7"/>
<circle cx="1764.3" cy="653.1" r="2.7"/>
<circle cx="1778.4" cy="656" r="2.7"/>
<circle cx="1735.8" cy="657.6" r="2.7"/>
<circle cx="1746" cy="638.9" r="2.7"/>
<circle cx="1774.1" cy="639.6" r="2.7"/>
<circle cx="1764.8" cy="639.2" r="2.7"/>
<circle cx="1754.4" cy="683.8" r="2.7"/>
<circle cx="1775.2" cy="654.2" r="2.7"/>
<circle cx="1760.8" cy="654.8" r="2.7"/>
<circle cx="1735.7" cy="649.2" r="2.7"/>
<circle cx="1750.4" cy="677" r="2.7"/>
<circle cx="1733" cy="659.1" r="2.7"/>
<circle cx="1752" cy="659.9" r="2.7"/>
<circle cx="1778.4" cy="657.6" r="2.7"/>
<circle cx="1740.9" cy="681" r="2.7"/>
<circle cx="1762.9" cy="635.9" r="2.7"/>
<circle cx="1758.8" cy="675.2" r="2.7"/>
<circle cx="1718.7" cy="660.8" r="2.7"/>
<circle cx="1754" cy="637" r="2.7"/>
<circle cx="1750" cy="645.8" r="2.7"/>
<circle cx="1763.1" cy="635.8" r="2.7"/>
<circle cx="1764.6" cy="649.2" r="2.7"/>
<circle cx="1778.6" cy="671.1" r="2.7"/>
<circle cx="1758.7" cy="640.1" r="2.7"/>
<circle cx="1735.4" cy="665" r="2.7"/>
<circle cx="1749.9" cy="663.1" r="2.7"/>
<circle cx="1735.5" cy="674.8" r="2.7"/>
<circle cx="1736.2" cy="675.4" r="2.7"/>
<circle cx="1750.1" cy="644.5" r="2.7"/>
<circle cx="1761.2" cy="652.5" r="2.7"/>
<circle cx="1758.8" cy="655" r="2.7"/>
<circle cx="1780.5" cy="636.2" r="2.7"/>
<circle cx="1754.6" cy="673.7" r="2.7"/>
<circle cx="1740.2" cy="650.4" r="2.7"/>
<circle cx="1792.5" cy="660.8" r="2.7"/>
<circle cx="1783.4" cy="657" r="2.7"/>
<circle cx="1787.8" cy="662.4" r="2.7"/>
<circle cx="1734.2" cy="642.6" r="2.7"/>
<circle cx="1753.4" cy="625.3" r="2.7"/>
<circle cx="1788.9" cy="649.9" r="2.7"/>
<circle cx="1731" cy="650.4" r="2.7"/>
<circle cx="1779.4" cy="636" r="2.7"/>
<circle cx="1762" cy="624" r="2.7"/>
<circle cx="1734.3" cy="630.4" r="2.7"/>
<circle cx="1755.4" cy="663.4" r="2.7"/>
<circle cx="1733.2" cy="663.5" r="2.7"/>
<circle cx="1761.9" cy="667.6" r="2.7"/>
<circle cx="1755.8" cy="629.7" r="2.7"/>
<circle cx="1721.8" cy="660.6" r="2.7"/>
<circle cx="1721.7" cy="653.8" r="2.7"/>
<circle cx="1730.7" cy="635.4" r="2.7"/>
<circle cx="1776.4" cy="647.5" r="2.7"/>
<circle cx="1726.8" cy="662.8" r="2.7"/>
<circle cx="1750.6" cy="653.5" r="2.7"/>
<circle cx="1771.2" cy="673.3" r="2.7"/>
<circle cx="1777.9" cy="634.4" r="2.7"/>
<circle cx="1777.4" cy="624.8" r="2.7"/>
<circle cx="1725.3" cy="651.5" r="2.7"/>
<circle cx="1729.8" cy="655" r="2.7"/>
<circle cx="1737.7" cy="680.3" r="2.7"/>
<circle cx="1749.7" cy="671.8" r="2.7"/>
<circle cx="1790.6" cy="647.9" r="2.7"/>
<circle cx="1776.5" cy="650.5" r="2.7"/>
<circle cx="1746.9" cy="626.2" r="2.7"/>
<circle cx="1767.7" cy="678.8" r="2.7"/>
<circle cx="1770" cy="638.9" r="2.7"/>
<circle cx="1757" cy="641.5" r="2.7"/>
<circle cx="1746.3" cy="669" r="2.7"/>
<circle cx="1756" cy="627.7" r="2.7"/>
<circle cx="1773.6" cy="634.7" r="2.7"/>
<circle cx="1747.3" cy="634.4" r="2.7"/>
<circle cx="1762.8" cy="646.4" r="2.7"/>
<circle cx="1769.7" cy="646.1" r="2.7"/>
<circle cx="1777.7" cy="654.4" r="2.7"/>
<circle cx="1723.4" cy="650.5" r="2.7"/>
<circle cx="1735.2" cy="637.7" r="2.7"/>
<circle cx="1790.8" cy="649.7" r="2.7"/>
<circle cx="1774.1" cy="628.3" r="2.7"/>
<circle cx="1765.4" cy="625.8" r="2.7"/>
<circle cx="1768" cy="621" r="2.7"/>
<circle cx="1776.3" cy="622.5" r="2.7"/>
<circle cx="1733.6" cy="669.4" r="2.7"/>
<circle cx="1776.4" cy="633.5" r="2.7"/>
<circle cx="1755.6" cy="679.2" r="2.7"/>
<circle cx="1756.8" cy="661.6" r="2.7"/>
<circle cx="1751.4" cy="632.4" r="2.7"/>
<circle cx="1751.4" cy="661.6" r="2.7"/>
<circle cx="1756.7" cy="657.5" r="2.7"/>
<circle cx="1757.3" cy="664.1" r="2.7"/>
<circle cx="1757.4" cy="654.3" r="2.7"/>
<circle cx="1759.9" cy="662" r="2.7"/>
<circle cx="1760.4" cy="691.1" r="2.7"/>
<circle cx="1759.8" cy="677.4" r="2.7"/>
<circle cx="1758" cy="663.3" r="2.7"/>
<circle cx="1752.2" cy="634.6" r="2.7"/>
<circle cx="1757.6" cy="643.9" r="2.7"/>
<circle cx="1757" cy="663.2" r="2.7"/>
<circle cx="1756.9" cy="655.5" r="2.7"/>
<circle cx="1752.1" cy="647.4" r="2.7"/>
<circle cx="1758.1" cy="684.7" r="2.7"/>
<circle cx="1753.1" cy="648.1" r="2.7"/>
<circle cx="1754.8" cy="655.5" r="2.7"/>
<circle cx="1757.2" cy="676.4" r="2.7"/>
<circle cx="1759" cy="679.8" r="2.7"/>
<circle cx="1758.4" cy="690.2" r="2.7"/>
<circle cx="1754.8" cy="656.6" r="2.7"/>
<circle cx="1757.5" cy="648.1" r="2.7"/>
<circle cx="1759.8" cy="654.7" r="2.7"/>
</g>
<path d="M1563 459.75V701.75H1925.36" fill="none" stroke="#000" stroke-width="2.2" stroke-linecap="square"/>
<path d="M1563 701.75v7M1683.79 701.75v7M1804.57 701.75v7M1925.36 701.75v7M1563 701.75h-7M1563 621.08h-7M1563 540.42h-7M1563 459.75h-7" stroke="#000" stroke-width="2.2" fill="none"/>
<line x1="1689.1" y1="649.32" x2="1852.64" y2="651.9" stroke="#000" stroke-width="1.9"/>
<g font-size="18.3" font-weight="bold" text-anchor="end">
<text x="1553.4" y="706.8">0</text>
<text x="1553.4" y="626.13">20</text>
<text x="1553.4" y="545.47">40</text>
<text x="1553.4" y="464.8">60</text>
</g>
<g font-size="18.3" font-weight="bold" text-anchor="middle">
<text x="1563" y="728.45">0</text>
<text x="1683.79" y="728.45">50</text>
<text x="1804.57" y="728.45">100</text>
<text x="1925.36" y="728.45">150</text>
</g>
<text x="1744.6" y="756" font-size="19.9" font-weight="bold" text-anchor="middle">DBP(mmHg)</text>
<text transform="translate(1522.9 580.8) rotate(-90)" font-size="20.1" font-weight="bold" text-anchor="middle">CK-MB(U/L)</text>
<text x="1873.85" y="461" font-size="19.57" font-weight="bold" font-style="italic">R=-0.017</text>
<text x="1873.8" y="483.5" font-size="19.57" font-weight="bold" font-style="italic">p=0.75</text>
<text x="1503.6" y="408.3" font-size="42" font-weight="bold">h</text>
</g>
<text transform="translate(68.9 58) scale(1 1.16)" font-size="42" font-weight="normal">a</text>
</svg>
</body></html>
